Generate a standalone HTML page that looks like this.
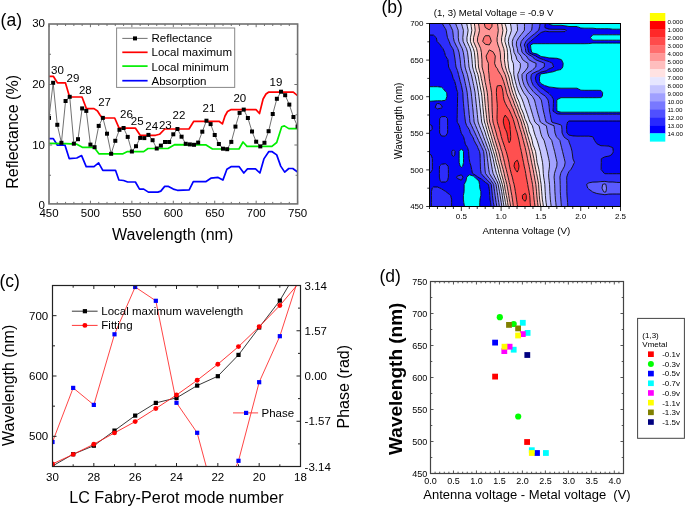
<!DOCTYPE html>
<html><head><meta charset="utf-8"><style>
html,body{margin:0;padding:0;background:#fff;}
svg{display:block;will-change:transform;}
text{font-family:"Liberation Sans",sans-serif;}
</style></head><body>
<svg width="685" height="507" viewBox="0 0 685 507">
<rect width="685" height="507" fill="#fff"/>
<g>
<clipPath id="ca"><rect x="49" y="24" width="248.6" height="179.9"/></clipPath>
<g clip-path="url(#ca)">
<polyline points="49,117.9 53.14,82.8 57.29,124.8 61.43,142.8 65.57,101 69.72,96.8 73.86,143.7 78,139.2 82.15,108.4 86.29,110.9 90.43,144.6 94.58,147.2 98.72,125.9 102.86,117.9 107.01,133.7 111.15,153.8 115.29,140.8 119.44,129.8 123.58,128 127.72,136.9 131.87,151.5 136.01,146.2 140.15,137.9 144.3,138.1 148.44,134.9 152.58,140.2 156.73,148.5 160.87,145.6 165.01,142 169.16,142 173.3,134.3 177.44,129 181.59,136.7 185.73,143.8 189.87,144.4 194.02,144.8 198.16,142.6 202.3,131.7 206.45,120.7 210.59,124.1 214.73,135 218.88,144 223.02,148.7 227.16,149.2 231.31,141.9 235.45,126.6 239.59,112.9 243.74,109.6 247.88,118 252.02,131.5 256.17,141.7 260.31,146.4 264.45,142.8 268.6,131.2 272.74,114 276.88,98.8 281.03,91.7 285.17,95.2 289.31,104.6 293.46,117 297.6,126.5" fill="none" stroke="#333" stroke-width="0.7"/>
<polyline points="49,138.6 53.3,138.6 57.4,145.2 65,145.2 69.2,158.6 76.8,158 81.6,155.6 86.2,166.6 94,166.6 98.6,162.9 102.8,170.3 115.5,170.3 118.9,180 123.6,180.5 127.7,182 135.4,182 139.5,189.1 143.7,189.1 148.4,192.1 157.9,192.1 160.8,191.1 164.7,186.4 168.5,186.4 173.3,189.1 177.4,190.3 189.2,189.9 193.3,181.7 205.7,181.7 210.9,178.2 218.1,177.4 222.9,180.1 226.9,169.3 231.4,166.6 239,166.6 243.8,173 247.5,168.9 255.5,168.9 259.9,173 263.9,158.9 268.7,151.7 272.2,151.7 276.7,154.9 280.7,166.1 284.7,172.1 288.8,168.5 292.8,168.5 297.6,172.1" fill="none" stroke="#0000ff" stroke-width="1.7" stroke-linejoin="round"/>
<polyline points="49,143.4 65.7,143.6 76.8,144.2 82.3,147.3 94,147.3 98.9,153.8 123,153.8 127.5,151.6 143.7,151.6 148,148.5 168,148.5 174.5,144.7 205.7,144.8 212.5,149 239,149 243,142 247,146.3 271.9,146.3 276.7,142.5 281.7,126.8 284.4,125.9 288.8,128.6 297.6,128.6" fill="none" stroke="#00ee00" stroke-width="1.7" stroke-linejoin="round"/>
<polyline points="49,76.3 53.3,76.3 57.4,82.8 65.4,82.8 69.6,97 82,97 86.4,108.6 94,108.6 97.5,111 100,115 102.3,118 114.7,118 119.1,128.2 135.5,128.2 140.2,135.3 155.6,135.3 159.5,134.3 164.8,129 189,129 193.8,121.3 219,121.3 222.4,123.9 225,116 227.5,111.5 230.8,109.7 256,109.7 259.5,113.5 263.1,99 266,94 268.5,92.2 293.3,92.2 297.6,95.7" fill="none" stroke="#ff0000" stroke-width="1.7" stroke-linejoin="round"/>
<rect x="47" y="115.9" width="4" height="4" fill="#000"/>
<rect x="51.14" y="80.8" width="4" height="4" fill="#000"/>
<rect x="55.29" y="122.8" width="4" height="4" fill="#000"/>
<rect x="59.43" y="140.8" width="4" height="4" fill="#000"/>
<rect x="63.57" y="99" width="4" height="4" fill="#000"/>
<rect x="67.72" y="94.8" width="4" height="4" fill="#000"/>
<rect x="71.86" y="141.7" width="4" height="4" fill="#000"/>
<rect x="76" y="137.2" width="4" height="4" fill="#000"/>
<rect x="80.15" y="106.4" width="4" height="4" fill="#000"/>
<rect x="84.29" y="108.9" width="4" height="4" fill="#000"/>
<rect x="88.43" y="142.6" width="4" height="4" fill="#000"/>
<rect x="92.58" y="145.2" width="4" height="4" fill="#000"/>
<rect x="96.72" y="123.9" width="4" height="4" fill="#000"/>
<rect x="100.86" y="115.9" width="4" height="4" fill="#000"/>
<rect x="105.01" y="131.7" width="4" height="4" fill="#000"/>
<rect x="109.15" y="151.8" width="4" height="4" fill="#000"/>
<rect x="113.29" y="138.8" width="4" height="4" fill="#000"/>
<rect x="117.44" y="127.8" width="4" height="4" fill="#000"/>
<rect x="121.58" y="126" width="4" height="4" fill="#000"/>
<rect x="125.72" y="134.9" width="4" height="4" fill="#000"/>
<rect x="129.87" y="149.5" width="4" height="4" fill="#000"/>
<rect x="134.01" y="144.2" width="4" height="4" fill="#000"/>
<rect x="138.15" y="135.9" width="4" height="4" fill="#000"/>
<rect x="142.3" y="136.1" width="4" height="4" fill="#000"/>
<rect x="146.44" y="132.9" width="4" height="4" fill="#000"/>
<rect x="150.58" y="138.2" width="4" height="4" fill="#000"/>
<rect x="154.73" y="146.5" width="4" height="4" fill="#000"/>
<rect x="158.87" y="143.6" width="4" height="4" fill="#000"/>
<rect x="163.01" y="140" width="4" height="4" fill="#000"/>
<rect x="167.16" y="140" width="4" height="4" fill="#000"/>
<rect x="171.3" y="132.3" width="4" height="4" fill="#000"/>
<rect x="175.44" y="127" width="4" height="4" fill="#000"/>
<rect x="179.59" y="134.7" width="4" height="4" fill="#000"/>
<rect x="183.73" y="141.8" width="4" height="4" fill="#000"/>
<rect x="187.87" y="142.4" width="4" height="4" fill="#000"/>
<rect x="192.02" y="142.8" width="4" height="4" fill="#000"/>
<rect x="196.16" y="140.6" width="4" height="4" fill="#000"/>
<rect x="200.3" y="129.7" width="4" height="4" fill="#000"/>
<rect x="204.45" y="118.7" width="4" height="4" fill="#000"/>
<rect x="208.59" y="122.1" width="4" height="4" fill="#000"/>
<rect x="212.73" y="133" width="4" height="4" fill="#000"/>
<rect x="216.88" y="142" width="4" height="4" fill="#000"/>
<rect x="221.02" y="146.7" width="4" height="4" fill="#000"/>
<rect x="225.16" y="147.2" width="4" height="4" fill="#000"/>
<rect x="229.31" y="139.9" width="4" height="4" fill="#000"/>
<rect x="233.45" y="124.6" width="4" height="4" fill="#000"/>
<rect x="237.59" y="110.9" width="4" height="4" fill="#000"/>
<rect x="241.74" y="107.6" width="4" height="4" fill="#000"/>
<rect x="245.88" y="116" width="4" height="4" fill="#000"/>
<rect x="250.02" y="129.5" width="4" height="4" fill="#000"/>
<rect x="254.17" y="139.7" width="4" height="4" fill="#000"/>
<rect x="258.31" y="144.4" width="4" height="4" fill="#000"/>
<rect x="262.45" y="140.8" width="4" height="4" fill="#000"/>
<rect x="266.6" y="129.2" width="4" height="4" fill="#000"/>
<rect x="270.74" y="112" width="4" height="4" fill="#000"/>
<rect x="274.88" y="96.8" width="4" height="4" fill="#000"/>
<rect x="279.03" y="89.7" width="4" height="4" fill="#000"/>
<rect x="283.17" y="93.2" width="4" height="4" fill="#000"/>
<rect x="287.31" y="102.6" width="4" height="4" fill="#000"/>
<rect x="291.46" y="115" width="4" height="4" fill="#000"/>
<rect x="295.6" y="124.5" width="4" height="4" fill="#000"/>
</g>
<path d="M49,203.9v-3.2M49,24v3.2M57.29,203.9v-2.0M57.29,24v2.0M65.57,203.9v-2.0M65.57,24v2.0M73.86,203.9v-2.0M73.86,24v2.0M82.15,203.9v-2.0M82.15,24v2.0M90.43,203.9v-3.2M90.43,24v3.2M98.72,203.9v-2.0M98.72,24v2.0M107.01,203.9v-2.0M107.01,24v2.0M115.29,203.9v-2.0M115.29,24v2.0M123.58,203.9v-2.0M123.58,24v2.0M131.87,203.9v-3.2M131.87,24v3.2M140.15,203.9v-2.0M140.15,24v2.0M148.44,203.9v-2.0M148.44,24v2.0M156.73,203.9v-2.0M156.73,24v2.0M165.01,203.9v-2.0M165.01,24v2.0M173.3,203.9v-3.2M173.3,24v3.2M181.59,203.9v-2.0M181.59,24v2.0M189.87,203.9v-2.0M189.87,24v2.0M198.16,203.9v-2.0M198.16,24v2.0M206.45,203.9v-2.0M206.45,24v2.0M214.73,203.9v-3.2M214.73,24v3.2M223.02,203.9v-2.0M223.02,24v2.0M231.31,203.9v-2.0M231.31,24v2.0M239.59,203.9v-2.0M239.59,24v2.0M247.88,203.9v-2.0M247.88,24v2.0M256.17,203.9v-3.2M256.17,24v3.2M264.45,203.9v-2.0M264.45,24v2.0M272.74,203.9v-2.0M272.74,24v2.0M281.03,203.9v-2.0M281.03,24v2.0M289.31,203.9v-2.0M289.31,24v2.0M297.6,203.9v-3.2M297.6,24v3.2M49,175.25h2.0M297.6,175.25h-2.0M49,145h3.2M297.6,145h-3.2M49,114.75h2.0M297.6,114.75h-2.0M49,84.5h3.2M297.6,84.5h-3.2M49,54.25h2.0M297.6,54.25h-2.0" stroke="#707070" stroke-width="1" fill="none"/>
<rect x="49" y="24" width="248.6" height="179.9" fill="none" stroke="#707070" stroke-width="1.6"/>
<text x="49" y="217.3" font-size="11.5" text-anchor="middle" fill="#000">450</text>
<text x="90.43" y="217.3" font-size="11.5" text-anchor="middle" fill="#000">500</text>
<text x="131.87" y="217.3" font-size="11.5" text-anchor="middle" fill="#000">550</text>
<text x="173.3" y="217.3" font-size="11.5" text-anchor="middle" fill="#000">600</text>
<text x="214.73" y="217.3" font-size="11.5" text-anchor="middle" fill="#000">650</text>
<text x="256.17" y="217.3" font-size="11.5" text-anchor="middle" fill="#000">700</text>
<text x="297.6" y="217.3" font-size="11.5" text-anchor="middle" fill="#000">750</text>
<text x="45" y="209.2" font-size="11.5" text-anchor="end" fill="#000">0</text>
<text x="45" y="148.57" font-size="11.5" text-anchor="end" fill="#000">10</text>
<text x="45" y="87.93" font-size="11.5" text-anchor="end" fill="#000">20</text>
<text x="45" y="27.3" font-size="11.5" text-anchor="end" fill="#000">30</text>
<text x="51" y="73.5" font-size="11.5" text-anchor="start" fill="#000">30</text>
<text x="66.5" y="82.1" font-size="11.5" text-anchor="start" fill="#000">29</text>
<text x="78.9" y="93.5" font-size="11.5" text-anchor="start" fill="#000">28</text>
<text x="98.2" y="105.8" font-size="11.5" text-anchor="start" fill="#000">27</text>
<text x="120.1" y="117.8" font-size="11.5" text-anchor="start" fill="#000">26</text>
<text x="130.8" y="125.4" font-size="11.5" text-anchor="start" fill="#000">25</text>
<text x="145.3" y="130.2" font-size="11.5" text-anchor="start" fill="#000">24</text>
<text x="158.9" y="129.3" font-size="11.5" text-anchor="start" fill="#000">23</text>
<text x="172.5" y="118.9" font-size="11.5" text-anchor="start" fill="#000">22</text>
<text x="202.6" y="111.9" font-size="11.5" text-anchor="start" fill="#000">21</text>
<text x="233.4" y="101.8" font-size="11.5" text-anchor="start" fill="#000">20</text>
<text x="269.6" y="86" font-size="11.5" text-anchor="start" fill="#000">19</text>
<rect x="116.6" y="28" width="118.1" height="59.4" fill="#fff" stroke="#888" stroke-width="1"/>
<line x1="122.3" y1="38.4" x2="147.6" y2="38.4" stroke="#333" stroke-width="0.7"/>
<rect x="133" y="36.4" width="4" height="4" fill="#000"/>
<line x1="122.3" y1="52.3" x2="147.6" y2="52.3" stroke="#ff0000" stroke-width="1.7"/>
<line x1="122.3" y1="66.1" x2="147.6" y2="66.1" stroke="#00ee00" stroke-width="1.7"/>
<line x1="122.3" y1="80.7" x2="147.6" y2="80.7" stroke="#0000ff" stroke-width="1.7"/>
<text x="151.5" y="41.5" font-size="11.5" text-anchor="start" fill="#000">Reflectance</text>
<text x="151.5" y="56.2" font-size="11.5" text-anchor="start" fill="#000">Local maximum</text>
<text x="151.5" y="70.5" font-size="11.5" text-anchor="start" fill="#000">Local minimum</text>
<text x="151.5" y="84.8" font-size="11.5" text-anchor="start" fill="#000">Absorption</text>
<text x="112" y="240.4" font-size="16" text-anchor="start" fill="#000">Wavelength (nm)</text>
<text x="18.2" y="188.8" font-size="16" text-anchor="start" fill="#000" transform="rotate(-90 18.2 188.8)">Reflectance (%)</text>
<text x="0.6" y="26" font-size="17.5" text-anchor="start" fill="#000">(a)</text>
</g>
<clipPath id="cc"><rect x="52.5" y="285.5" width="248" height="181"/></clipPath>
<g clip-path="url(#cc)">
<polyline points="52.5,442 73.17,387.9 93.83,404.9 114.5,334.3 135.17,287 155.83,300.8 176.5,402.8 197.17,432.8 217.83,509.7 238.5,460.8 259.17,382.2 279.83,336.2 300.5,272" fill="none" stroke="#ff3030" stroke-width="0.9"/>
<polyline points="52.5,466 73.17,454.2 93.83,445.7 114.5,430.6 135.17,415.6 155.83,402.9 176.5,397.9 197.17,385.6 217.83,376.2 238.5,354.9 259.17,327.5 279.83,300.6 300.5,265.4" fill="none" stroke="#222" stroke-width="0.9"/>
<polyline points="52.5,463.9 73.17,454.4 93.83,444.2 114.5,432.9 135.17,421.6 155.83,408.5 176.5,395 197.17,380.3 217.83,364.2 238.5,346.6 259.17,326.8 279.83,305.5 300.5,281.1" fill="none" stroke="#ff2020" stroke-width="0.9"/>
<rect x="50.4" y="463.9" width="4.2" height="4.2" fill="#000"/>
<rect x="71.07" y="452.1" width="4.2" height="4.2" fill="#000"/>
<rect x="91.73" y="443.6" width="4.2" height="4.2" fill="#000"/>
<rect x="112.4" y="428.5" width="4.2" height="4.2" fill="#000"/>
<rect x="133.07" y="413.5" width="4.2" height="4.2" fill="#000"/>
<rect x="153.73" y="400.8" width="4.2" height="4.2" fill="#000"/>
<rect x="174.4" y="395.8" width="4.2" height="4.2" fill="#000"/>
<rect x="195.07" y="383.5" width="4.2" height="4.2" fill="#000"/>
<rect x="215.73" y="374.1" width="4.2" height="4.2" fill="#000"/>
<rect x="236.4" y="352.8" width="4.2" height="4.2" fill="#000"/>
<rect x="257.07" y="325.4" width="4.2" height="4.2" fill="#000"/>
<rect x="277.73" y="298.5" width="4.2" height="4.2" fill="#000"/>
<rect x="298.4" y="263.3" width="4.2" height="4.2" fill="#000"/>
<circle cx="52.5" cy="463.9" r="2.45" fill="#ff0000"/>
<circle cx="73.17" cy="454.4" r="2.45" fill="#ff0000"/>
<circle cx="93.83" cy="444.2" r="2.45" fill="#ff0000"/>
<circle cx="114.5" cy="432.9" r="2.45" fill="#ff0000"/>
<circle cx="135.17" cy="421.6" r="2.45" fill="#ff0000"/>
<circle cx="155.83" cy="408.5" r="2.45" fill="#ff0000"/>
<circle cx="176.5" cy="395" r="2.45" fill="#ff0000"/>
<circle cx="197.17" cy="380.3" r="2.45" fill="#ff0000"/>
<circle cx="217.83" cy="364.2" r="2.45" fill="#ff0000"/>
<circle cx="238.5" cy="346.6" r="2.45" fill="#ff0000"/>
<circle cx="259.17" cy="326.8" r="2.45" fill="#ff0000"/>
<circle cx="279.83" cy="305.5" r="2.45" fill="#ff0000"/>
<circle cx="300.5" cy="281.1" r="2.45" fill="#ff0000"/>
<rect x="50.4" y="439.9" width="4.2" height="4.2" fill="#0000ff"/>
<rect x="71.07" y="385.8" width="4.2" height="4.2" fill="#0000ff"/>
<rect x="91.73" y="402.8" width="4.2" height="4.2" fill="#0000ff"/>
<rect x="112.4" y="332.2" width="4.2" height="4.2" fill="#0000ff"/>
<rect x="133.07" y="284.9" width="4.2" height="4.2" fill="#0000ff"/>
<rect x="153.73" y="298.7" width="4.2" height="4.2" fill="#0000ff"/>
<rect x="174.4" y="400.7" width="4.2" height="4.2" fill="#0000ff"/>
<rect x="195.07" y="430.7" width="4.2" height="4.2" fill="#0000ff"/>
<rect x="215.73" y="507.6" width="4.2" height="4.2" fill="#0000ff"/>
<rect x="236.4" y="458.7" width="4.2" height="4.2" fill="#0000ff"/>
<rect x="257.07" y="380.1" width="4.2" height="4.2" fill="#0000ff"/>
<rect x="277.73" y="334.1" width="4.2" height="4.2" fill="#0000ff"/>
<rect x="298.4" y="269.9" width="4.2" height="4.2" fill="#0000ff"/>
</g>
<path d="M300.5,466.5v-3.5M300.5,285.5v3.5M279.83,466.5v-2.2M279.83,285.5v2.2M259.17,466.5v-3.5M259.17,285.5v3.5M238.5,466.5v-2.2M238.5,285.5v2.2M217.83,466.5v-3.5M217.83,285.5v3.5M197.17,466.5v-2.2M197.17,285.5v2.2M176.5,466.5v-3.5M176.5,285.5v3.5M155.83,466.5v-2.2M155.83,285.5v2.2M135.17,466.5v-3.5M135.17,285.5v3.5M114.5,466.5v-2.2M114.5,285.5v2.2M93.83,466.5v-3.5M93.83,285.5v3.5M73.17,466.5v-2.2M73.17,285.5v2.2M52.5,466.5v-3.5M52.5,285.5v3.5M52.5,466.5h2.5M52.5,436.33h4M52.5,406.17h2.5M52.5,376h4M52.5,345.83h2.5M52.5,315.67h4M52.5,285.5h2.5M300.5,285.5h-4M300.5,308.12h-2.5M300.5,330.75h-4M300.5,353.38h-2.5M300.5,376h-4M300.5,398.62h-2.5M300.5,421.25h-4M300.5,443.88h-2.5M300.5,466.5h-4" stroke="#222" stroke-width="1" fill="none"/>
<rect x="52.5" y="285.5" width="248" height="181" fill="none" stroke="#222" stroke-width="1.2"/>
<text x="300.5" y="481" font-size="11.5" text-anchor="middle" fill="#000">18</text>
<text x="259.17" y="481" font-size="11.5" text-anchor="middle" fill="#000">20</text>
<text x="217.83" y="481" font-size="11.5" text-anchor="middle" fill="#000">22</text>
<text x="176.5" y="481" font-size="11.5" text-anchor="middle" fill="#000">24</text>
<text x="135.17" y="481" font-size="11.5" text-anchor="middle" fill="#000">26</text>
<text x="93.83" y="481" font-size="11.5" text-anchor="middle" fill="#000">28</text>
<text x="52.5" y="481" font-size="11.5" text-anchor="middle" fill="#000">30</text>
<text x="48.2" y="440.43" font-size="11.5" text-anchor="end" fill="#000">500</text>
<text x="48.2" y="380.1" font-size="11.5" text-anchor="end" fill="#000">600</text>
<text x="48.2" y="319.77" font-size="11.5" text-anchor="end" fill="#000">700</text>
<text x="304.6" y="289.6" font-size="11.5" text-anchor="start" fill="#000">3.14</text>
<text x="304.6" y="334.85" font-size="11.5" text-anchor="start" fill="#000">1.57</text>
<text x="304.6" y="380.1" font-size="11.5" text-anchor="start" fill="#000">0.00</text>
<text x="304.6" y="425.35" font-size="11.5" text-anchor="start" fill="#000">-1.57</text>
<text x="304.6" y="470.6" font-size="11.5" text-anchor="start" fill="#000">-3.14</text>
<line x1="71.9" y1="311.2" x2="97.6" y2="311.2" stroke="#222" stroke-width="0.9"/>
<rect x="82.8" y="309.09999999999997" width="4.2" height="4.2" fill="#000"/>
<line x1="71.9" y1="325.4" x2="97.6" y2="325.4" stroke="#ff2020" stroke-width="0.9"/>
<circle cx="84.9" cy="325.4" r="2.45" fill="#ff0000"/>
<text x="101.3" y="315" font-size="11.5" text-anchor="start" fill="#000">Local maximum wavelength</text>
<text x="101.3" y="328.8" font-size="11.5" text-anchor="start" fill="#000">Fitting</text>
<line x1="233" y1="412.9" x2="258.1" y2="412.9" stroke="#ff3030" stroke-width="0.9"/>
<rect x="244" y="410.8" width="4.2" height="4.2" fill="#0000ff"/>
<text x="261.5" y="417.3" font-size="11.5" text-anchor="start" fill="#000">Phase</text>
<text x="69.2" y="503.4" font-size="16.15" text-anchor="start" fill="#000">LC Fabry-Perot mode number</text>
<text x="14.2" y="446" font-size="16" text-anchor="start" fill="#000" transform="rotate(-90 14.2 446)">Wavelength (nm)</text>
<text x="349.2" y="428.5" font-size="16" text-anchor="start" fill="#000" transform="rotate(-90 349.2 428.5)">Phase (rad)</text>
<text x="-0.5" y="287" font-size="17.5" text-anchor="start" fill="#000">(c)</text>
<clipPath id="cb"><rect x="429.5" y="23.5" width="191" height="183"/></clipPath>
<g clip-path="url(#cb)">
<path d="M525.2,201.3 526.3,199.1 526.3,195.4 525.2,193.3 522.3,195.4 522.6,199.1ZM517.2,172.1 518.5,169.7 519.0,166.1 518.3,162.4 517.2,160.1 514.7,162.4 514.0,166.1 515.4,169.7ZM509.2,142.8 510.5,140.4 510.7,136.7 510.5,133.0 510.2,129.4 509.8,125.7 509.3,122.0 509.2,121.6 507.7,118.4 505.2,115.1 503.5,118.4 503.3,122.0 504.1,125.7 505.2,129.2 505.5,129.4 507.0,133.0 507.6,136.7 508.3,140.4Z" fill="#ff2d2d"/>
<path d="M517.2,204.3 517.6,206.4 521.2,206.4 525.2,206.4 529.1,206.4 530.5,206.4 530.2,202.7 530.0,199.1 529.7,195.4 529.1,192.1 529.1,191.7 528.3,188.1 527.7,184.4 527.0,180.7 526.3,177.1 525.7,173.4 525.2,170.3 525.0,169.7 524.2,166.1 523.5,162.4 522.7,158.7 522.0,155.0 521.3,151.4 521.2,150.6 520.4,147.7 519.7,144.0 519.0,140.4 518.1,136.7 517.2,133.0 517.2,132.9 516.0,129.4 515.0,125.7 514.0,122.0 513.2,119.3 512.9,118.4 511.4,114.7 509.7,111.0 509.2,109.9 507.4,107.4 505.5,103.7 505.2,103.0 504.0,100.0 503.4,96.4 503.0,92.7 502.4,89.0 501.2,85.5 497.3,85.8 496.5,89.0 496.4,92.7 496.6,96.4 496.8,100.0 497.2,103.7 497.3,107.0 497.3,107.4 497.3,107.9 497.2,111.0 497.1,114.7 497.0,118.4 497.3,121.7 497.3,122.0 498.4,125.7 499.5,129.4 500.5,133.0 501.2,136.3 501.3,136.7 502.4,140.4 503.7,144.0 504.9,147.7 505.2,148.9 506.2,151.4 507.2,155.0 508.1,158.7 508.9,162.4 509.2,164.1 509.5,166.1 510.3,169.7 511.2,173.4 512.3,177.1 513.1,180.7 513.2,181.3 514.1,184.4 514.8,188.1 515.4,191.7 516.0,195.4 516.5,199.1 517.0,202.7ZM522.6,199.1 522.3,195.4 525.2,193.3 526.3,195.4 526.3,199.1 525.2,201.3ZM515.4,169.7 514.0,166.1 514.7,162.4 517.2,160.1 518.3,162.4 519.0,166.1 518.5,169.7 517.2,172.1ZM508.3,140.4 507.6,136.7 507.0,133.0 505.5,129.4 505.2,129.2 504.1,125.7 503.3,122.0 503.5,118.4 505.2,115.1 507.7,118.4 509.2,121.6 509.3,122.0 509.8,125.7 510.2,129.4 510.5,133.0 510.7,136.7 510.5,140.4 509.2,142.8Z" fill="#ff5050"/>
<path d="M513.2,205.3 513.4,206.4 517.2,206.4 517.6,206.4 517.2,204.3 517.0,202.7 516.5,199.1 516.0,195.4 515.4,191.7 514.8,188.1 514.1,184.4 513.2,181.3 513.1,180.7 512.3,177.1 511.2,173.4 510.3,169.7 509.5,166.1 509.2,164.1 508.9,162.4 508.1,158.7 507.2,155.0 506.2,151.4 505.2,148.9 504.9,147.7 503.7,144.0 502.4,140.4 501.3,136.7 501.2,136.3 500.5,133.0 499.5,129.4 498.4,125.7 497.3,122.0 497.3,121.7 497.0,118.4 497.1,114.7 497.2,111.0 497.3,107.9 497.3,107.4 497.3,107.0 497.2,103.7 496.8,100.0 496.6,96.4 496.4,92.7 496.5,89.0 497.3,85.8 501.2,85.5 502.4,89.0 503.0,92.7 503.4,96.4 504.0,100.0 505.2,103.0 505.5,103.7 507.4,107.4 509.2,109.9 509.7,111.0 511.4,114.7 512.9,118.4 513.2,119.3 514.0,122.0 515.0,125.7 516.0,129.4 517.2,132.9 517.2,133.0 518.1,136.7 519.0,140.4 519.7,144.0 520.4,147.7 521.2,150.6 521.3,151.4 522.0,155.0 522.7,158.7 523.5,162.4 524.2,166.1 525.0,169.7 525.2,170.3 525.7,173.4 526.3,177.1 527.0,180.7 527.7,184.4 528.3,188.1 529.1,191.7 529.1,192.1 529.7,195.4 530.0,199.1 530.2,202.7 530.5,206.4 533.1,206.4 535.0,206.4 534.5,202.7 534.0,199.1 533.7,195.4 533.3,191.7 533.1,189.3 533.0,188.1 532.5,184.4 531.8,180.7 531.1,177.1 530.4,173.4 529.7,169.7 529.1,166.4 529.1,166.1 528.2,162.4 527.5,158.7 526.8,155.0 526.0,151.4 525.2,147.7 525.2,147.4 524.2,144.0 523.3,140.4 522.3,136.7 521.4,133.0 521.2,132.3 520.2,129.4 519.1,125.7 518.1,122.0 517.2,119.0 516.9,118.4 515.3,114.7 513.9,111.0 513.2,109.0 512.4,107.4 510.8,103.7 509.5,100.0 509.2,99.3 507.9,96.4 506.6,92.7 505.8,89.0 505.2,86.8 504.8,85.4 503.7,81.7 502.3,78.0 501.2,75.3 500.5,74.4 498.2,70.7 497.3,68.5 495.9,67.0 494.6,63.3 495.0,59.7 495.3,56.0 493.4,52.3 493.3,52.0 489.3,49.9 488.0,52.3 486.1,56.0 486.8,59.7 488.4,63.3 488.4,67.0 488.5,70.7 489.0,74.4 489.2,78.0 489.3,78.7 489.7,81.7 490.4,85.4 491.0,89.0 491.6,92.7 491.8,96.4 491.9,100.0 492.0,103.7 492.1,107.4 492.2,111.0 492.4,114.7 492.6,118.4 493.0,122.0 493.3,123.2 494.1,125.7 495.1,129.4 496.2,133.0 497.1,136.7 497.3,137.3 498.3,140.4 499.5,144.0 500.6,147.7 501.2,149.9 501.8,151.4 502.7,155.0 503.6,158.7 504.5,162.4 505.2,165.9 505.3,166.1 506.3,169.7 507.2,173.4 508.1,177.1 508.9,180.7 509.2,182.4 509.8,184.4 510.5,188.1 511.1,191.7 511.8,195.4 512.4,199.1 512.9,202.7ZM485.3,44.3 489.3,44.9 491.3,41.3 490.2,37.7 489.3,35.7 485.3,35.7 483.9,37.7 482.7,41.3ZM485.3,27.5 489.3,29.9 491.8,26.7 492.2,23.0 489.3,23.0 485.3,23.0 484.2,23.0 485.0,26.7Z" fill="#ff7373"/>
<path d="M513.2,206.4 513.4,206.4 513.2,205.3 512.9,202.7 512.4,199.1 511.8,195.4 511.1,191.7 510.5,188.1 509.8,184.4 509.2,182.4 508.9,180.7 508.1,177.1 507.2,173.4 506.3,169.7 505.3,166.1 505.2,165.9 504.5,162.4 503.6,158.7 502.7,155.0 501.8,151.4 501.2,149.9 500.6,147.7 499.5,144.0 498.3,140.4 497.3,137.3 497.1,136.7 496.2,133.0 495.1,129.4 494.1,125.7 493.3,123.2 493.0,122.0 492.6,118.4 492.4,114.7 492.2,111.0 492.1,107.4 492.0,103.7 491.9,100.0 491.8,96.4 491.6,92.7 491.0,89.0 490.4,85.4 489.7,81.7 489.3,78.7 489.2,78.0 489.0,74.4 488.5,70.7 488.4,67.0 488.4,63.3 486.8,59.7 486.1,56.0 488.0,52.3 489.3,49.9 493.3,52.0 493.4,52.3 495.3,56.0 495.0,59.7 494.6,63.3 495.9,67.0 497.3,68.5 498.2,70.7 500.5,74.4 501.2,75.3 502.3,78.0 503.7,81.7 504.8,85.4 505.2,86.8 505.8,89.0 506.6,92.7 507.9,96.4 509.2,99.3 509.5,100.0 510.8,103.7 512.4,107.4 513.2,109.0 513.9,111.0 515.3,114.7 516.9,118.4 517.2,119.0 518.1,122.0 519.1,125.7 520.2,129.4 521.2,132.3 521.4,133.0 522.3,136.7 523.3,140.4 524.2,144.0 525.2,147.4 525.2,147.7 526.0,151.4 526.8,155.0 527.5,158.7 528.2,162.4 529.1,166.1 529.1,166.4 529.7,169.7 530.4,173.4 531.1,177.1 531.8,180.7 532.5,184.4 533.0,188.1 533.1,189.3 533.3,191.7 533.7,195.4 534.0,199.1 534.5,202.7 535.0,206.4 537.1,206.4 538.1,206.4 537.6,202.7 537.2,199.1 537.1,198.0 536.8,195.4 536.5,191.7 536.2,188.1 535.8,184.4 535.1,180.7 534.5,177.1 533.8,173.4 533.2,169.7 533.1,169.5 532.4,166.1 531.6,162.4 530.9,158.7 530.2,155.0 529.5,151.4 529.1,149.8 528.5,147.7 527.5,144.0 526.5,140.4 525.5,136.7 525.2,135.4 524.4,133.0 523.3,129.4 522.2,125.7 521.3,122.0 521.2,121.7 519.9,118.4 518.4,114.7 517.2,111.1 517.2,111.0 515.6,107.4 514.2,103.7 513.2,100.7 512.9,100.0 511.3,96.4 510.1,92.7 509.2,89.1 509.2,89.0 508.1,85.4 507.1,81.7 506.2,78.0 505.2,74.7 505.1,74.4 503.3,70.7 501.9,67.0 501.3,63.3 501.2,62.8 500.6,59.7 500.5,56.0 500.2,52.3 499.4,48.7 498.0,45.0 497.3,42.0 497.1,41.3 497.1,37.7 497.3,37.1 497.8,34.0 498.3,30.3 497.9,26.7 497.4,23.0 497.3,23.0 493.3,23.0 492.2,23.0 491.8,26.7 489.3,29.9 485.3,27.5 485.0,26.7 484.2,23.0 481.3,23.0 478.4,23.0 479.0,26.7 479.5,30.3 478.7,34.0 477.6,37.7 477.4,41.3 479.1,45.0 480.7,48.7 481.3,52.1 481.4,52.3 481.6,56.0 481.9,59.7 482.0,63.3 482.1,67.0 483.0,70.7 484.0,74.4 484.6,78.0 485.1,81.7 485.3,82.6 485.9,85.4 486.6,89.0 487.3,92.7 487.7,96.4 487.9,100.0 488.2,103.7 488.4,107.4 488.7,111.0 489.0,114.7 489.3,118.4 489.3,118.6 489.7,122.0 490.8,125.7 491.9,129.4 492.9,133.0 493.3,134.5 494.0,136.7 495.1,140.4 496.2,144.0 497.3,147.6 497.3,147.7 498.5,151.4 499.5,155.0 500.3,158.7 501.2,162.4 501.2,162.6 502.2,166.1 503.2,169.7 504.1,173.4 504.9,177.1 505.2,178.5 505.9,180.7 506.8,184.4 507.5,188.1 508.1,191.7 508.7,195.4 509.2,198.5 509.3,199.1 510.0,202.7 510.6,206.4ZM482.7,41.3 483.9,37.7 485.3,35.7 489.3,35.7 490.2,37.7 491.3,41.3 489.3,44.9 485.3,44.3Z" fill="#ff9696"/>
<path d="M509.2,206.4 510.6,206.4 510.0,202.7 509.3,199.1 509.2,198.5 508.7,195.4 508.1,191.7 507.5,188.1 506.8,184.4 505.9,180.7 505.2,178.5 504.9,177.1 504.1,173.4 503.2,169.7 502.2,166.1 501.2,162.6 501.2,162.4 500.3,158.7 499.5,155.0 498.5,151.4 497.3,147.7 497.3,147.6 496.2,144.0 495.1,140.4 494.0,136.7 493.3,134.5 492.9,133.0 491.9,129.4 490.8,125.7 489.7,122.0 489.3,118.6 489.3,118.4 489.0,114.7 488.7,111.0 488.4,107.4 488.2,103.7 487.9,100.0 487.7,96.4 487.3,92.7 486.6,89.0 485.9,85.4 485.3,82.6 485.1,81.7 484.6,78.0 484.0,74.4 483.0,70.7 482.1,67.0 482.0,63.3 481.9,59.7 481.6,56.0 481.4,52.3 481.3,52.1 480.7,48.7 479.1,45.0 477.4,41.3 477.6,37.7 478.7,34.0 479.5,30.3 479.0,26.7 478.4,23.0 477.3,23.0 474.3,23.0 474.8,26.7 475.2,30.3 474.5,34.0 473.5,37.7 473.4,41.3 475.0,45.0 476.6,48.7 477.3,52.2 477.4,52.3 477.8,56.0 478.1,59.7 478.3,63.3 478.5,67.0 479.4,70.7 480.6,74.4 481.2,78.0 481.3,78.5 482.0,81.7 482.7,85.4 483.5,89.0 484.1,92.7 484.5,96.4 484.8,100.0 485.1,103.7 485.3,105.7 485.5,107.4 485.9,111.0 486.3,114.7 486.7,118.4 487.1,122.0 488.1,125.7 489.1,129.4 489.3,129.9 490.3,133.0 491.4,136.7 492.4,140.4 493.3,143.4 493.5,144.0 494.7,147.7 495.8,151.4 496.7,155.0 497.3,157.4 497.6,158.7 498.6,162.4 499.6,166.1 500.5,169.7 501.2,172.8 501.4,173.4 502.4,177.1 503.4,180.7 504.4,184.4 504.9,188.1 505.2,189.9 505.6,191.7 506.3,195.4 507.1,199.1 507.6,202.7 508.2,206.4ZM540.1,202.7 539.6,199.1 539.3,195.4 539.1,191.7 538.8,188.1 538.6,184.4 538.0,180.7 537.3,177.1 537.1,176.0 536.6,173.4 535.8,169.7 535.1,166.1 534.5,162.4 533.9,158.7 533.1,155.0 533.1,155.0 532.3,151.4 531.2,147.7 530.3,144.0 529.2,140.4 529.1,140.1 528.1,136.7 527.0,133.0 526.0,129.4 525.2,126.6 524.9,125.7 523.7,122.0 522.4,118.4 521.2,114.9 521.1,114.7 519.6,111.0 518.3,107.4 517.2,104.3 516.9,103.7 515.4,100.0 514.2,96.4 513.2,93.7 512.8,92.7 511.7,89.0 510.8,85.4 510.0,81.7 509.2,78.1 509.2,78.0 508.0,74.4 506.6,70.7 505.5,67.0 505.2,65.4 504.9,63.3 504.4,59.7 504.5,56.0 504.4,52.3 503.8,48.7 502.5,45.0 501.5,41.3 501.6,37.7 502.4,34.0 502.9,30.3 502.3,26.7 501.6,23.0 501.2,23.0 497.4,23.0 497.9,26.7 498.3,30.3 497.8,34.0 497.3,37.1 497.1,37.7 497.1,41.3 497.3,42.0 498.0,45.0 499.4,48.7 500.2,52.3 500.5,56.0 500.6,59.7 501.2,62.8 501.3,63.3 501.9,67.0 503.3,70.7 505.1,74.4 505.2,74.7 506.2,78.0 507.1,81.7 508.1,85.4 509.2,89.0 509.2,89.1 510.1,92.7 511.3,96.4 512.9,100.0 513.2,100.7 514.2,103.7 515.6,107.4 517.2,111.0 517.2,111.1 518.4,114.7 519.9,118.4 521.2,121.7 521.3,122.0 522.2,125.7 523.3,129.4 524.4,133.0 525.2,135.4 525.5,136.7 526.5,140.4 527.5,144.0 528.5,147.7 529.1,149.8 529.5,151.4 530.2,155.0 530.9,158.7 531.6,162.4 532.4,166.1 533.1,169.5 533.2,169.7 533.8,173.4 534.5,177.1 535.1,180.7 535.8,184.4 536.2,188.1 536.5,191.7 536.8,195.4 537.1,198.0 537.2,199.1 537.6,202.7 538.1,206.4 540.7,206.4Z" fill="#ffbebe"/>
<path d="M507.6,202.7 507.1,199.1 506.3,195.4 505.6,191.7 505.2,189.9 504.9,188.1 504.4,184.4 503.4,180.7 502.4,177.1 501.4,173.4 501.2,172.8 500.5,169.7 499.6,166.1 498.6,162.4 497.6,158.7 497.3,157.4 496.7,155.0 495.8,151.4 494.7,147.7 493.5,144.0 493.3,143.4 492.4,140.4 491.4,136.7 490.3,133.0 489.3,129.9 489.1,129.4 488.1,125.7 487.1,122.0 486.7,118.4 486.3,114.7 485.9,111.0 485.5,107.4 485.3,105.7 485.1,103.7 484.8,100.0 484.5,96.4 484.1,92.7 483.5,89.0 482.7,85.4 482.0,81.7 481.3,78.5 481.2,78.0 480.6,74.4 479.4,70.7 478.5,67.0 478.3,63.3 478.1,59.7 477.8,56.0 477.4,52.3 477.3,52.2 476.6,48.7 475.0,45.0 473.4,41.3 473.5,37.7 474.5,34.0 475.2,30.3 474.8,26.7 474.3,23.0 473.3,23.0 470.8,23.0 471.3,26.7 471.8,30.3 471.2,34.0 470.4,37.7 470.4,41.3 471.7,45.0 473.3,48.5 473.4,48.7 474.4,52.3 474.8,56.0 475.1,59.7 475.3,63.3 475.5,67.0 476.4,70.7 477.3,73.0 477.8,74.4 478.6,78.0 479.2,81.7 479.9,85.4 480.6,89.0 481.3,92.3 481.4,92.7 481.9,96.4 482.2,100.0 482.6,103.7 482.9,107.4 483.3,111.0 483.6,114.7 484.0,118.4 484.5,122.0 485.3,124.3 485.7,125.7 486.8,129.4 487.8,133.0 488.9,136.7 489.3,137.7 490.2,140.4 491.2,144.0 492.3,147.7 493.3,151.0 493.4,151.4 494.5,155.0 495.4,158.7 496.2,162.4 497.2,166.1 497.3,166.1 498.2,169.7 499.0,173.4 500.1,177.1 501.2,180.7 501.2,180.9 502.3,184.4 503.0,188.1 503.6,191.7 504.2,195.4 504.9,199.1 505.2,201.2 505.5,202.7 506.2,206.4 508.2,206.4ZM541.1,206.4 543.4,206.4 542.9,202.7 542.3,199.1 542.0,195.4 541.7,191.7 541.4,188.1 541.1,184.7 541.1,184.4 540.5,180.7 540.0,177.1 539.5,173.4 538.9,169.7 538.1,166.1 537.1,162.5 537.1,162.4 536.6,158.7 536.1,155.0 535.5,151.4 534.2,147.7 533.1,145.2 532.8,144.0 532.1,140.4 531.1,136.7 529.6,133.0 529.1,131.9 528.6,129.4 527.8,125.7 526.5,122.0 525.2,119.4 524.8,118.4 523.8,114.7 522.4,111.0 521.2,108.6 520.7,107.4 519.7,103.7 518.3,100.0 517.2,97.9 516.7,96.4 515.5,92.7 514.5,89.0 513.3,85.4 513.2,85.0 512.4,81.7 511.7,78.0 510.8,74.4 509.3,70.7 509.2,70.3 508.5,67.0 508.2,63.3 507.7,59.7 507.7,56.0 507.5,52.3 507.1,48.7 506.0,45.0 505.2,42.2 504.9,41.3 505.1,37.7 505.2,37.4 506.1,34.0 506.8,30.3 506.0,26.7 505.2,24.2 505.0,23.0 501.6,23.0 502.3,26.7 502.9,30.3 502.4,34.0 501.6,37.7 501.5,41.3 502.5,45.0 503.8,48.7 504.4,52.3 504.5,56.0 504.4,59.7 504.9,63.3 505.2,65.4 505.5,67.0 506.6,70.7 508.0,74.4 509.2,78.0 509.2,78.1 510.0,81.7 510.8,85.4 511.7,89.0 512.8,92.7 513.2,93.7 514.2,96.4 515.4,100.0 516.9,103.7 517.2,104.3 518.3,107.4 519.6,111.0 521.1,114.7 521.2,114.9 522.4,118.4 523.7,122.0 524.9,125.7 525.2,126.6 526.0,129.4 527.0,133.0 528.1,136.7 529.1,140.1 529.2,140.4 530.3,144.0 531.2,147.7 532.3,151.4 533.1,155.0 533.1,155.0 533.9,158.7 534.5,162.4 535.1,166.1 535.8,169.7 536.6,173.4 537.1,176.0 537.3,177.1 538.0,180.7 538.6,184.4 538.8,188.1 539.1,191.7 539.3,195.4 539.6,199.1 540.1,202.7 540.7,206.4Z" fill="#ffe4e4"/>
<path d="M505.2,206.4 506.2,206.4 505.5,202.7 505.2,201.2 504.9,199.1 504.2,195.4 503.6,191.7 503.0,188.1 502.3,184.4 501.2,180.9 501.2,180.7 500.1,177.1 499.0,173.4 498.2,169.7 497.3,166.1 497.2,166.1 496.2,162.4 495.4,158.7 494.5,155.0 493.4,151.4 493.3,151.0 492.3,147.7 491.2,144.0 490.2,140.4 489.3,137.7 488.9,136.7 487.8,133.0 486.8,129.4 485.7,125.7 485.3,124.3 484.5,122.0 484.0,118.4 483.6,114.7 483.3,111.0 482.9,107.4 482.6,103.7 482.2,100.0 481.9,96.4 481.4,92.7 481.3,92.3 480.6,89.0 479.9,85.4 479.2,81.7 478.6,78.0 477.8,74.4 477.3,73.0 476.4,70.7 475.5,67.0 475.3,63.3 475.1,59.7 474.8,56.0 474.4,52.3 473.4,48.7 473.3,48.5 471.7,45.0 470.4,41.3 470.4,37.7 471.2,34.0 471.8,30.3 471.3,26.7 470.8,23.0 469.4,23.0 466.6,23.0 467.4,26.7 468.1,30.3 467.6,34.0 466.9,37.7 467.0,41.3 468.6,45.0 469.4,46.6 470.2,48.7 471.2,52.3 471.6,56.0 472.0,59.7 472.3,63.3 472.6,67.0 473.3,69.6 473.6,70.7 474.8,74.4 475.6,78.0 476.4,81.7 477.2,85.4 477.3,86.0 477.8,89.0 478.4,92.7 478.9,96.4 479.3,100.0 479.7,103.7 480.1,107.4 480.5,111.0 480.9,114.7 481.3,118.2 481.3,118.4 481.7,122.0 482.8,125.7 484.1,129.4 485.3,132.8 485.3,133.0 486.4,136.7 487.7,140.4 489.0,144.0 489.3,144.9 490.1,147.7 491.2,151.4 492.2,155.0 493.1,158.7 493.3,159.4 493.9,162.4 494.6,166.1 495.5,169.7 496.4,173.4 497.3,175.4 497.7,177.1 499.0,180.7 500.3,184.4 501.0,188.1 501.2,189.1 501.7,191.7 502.3,195.4 502.8,199.1 503.4,202.7 504.0,206.4ZM545.1,206.4 546.7,206.4 546.1,202.7 545.7,199.1 545.4,195.4 545.2,191.7 545.1,189.8 545.0,188.1 544.8,184.4 544.3,180.7 543.7,177.1 543.3,173.4 543.1,169.7 542.9,166.1 542.5,162.4 541.8,158.7 541.1,155.4 541.0,155.0 540.3,151.4 539.2,147.7 538.2,144.0 537.1,140.5 537.1,140.4 535.6,136.7 534.4,133.0 533.4,129.4 533.1,128.4 532.4,125.7 530.0,122.0 529.1,119.7 528.7,118.4 527.5,114.7 526.2,111.0 525.2,108.1 524.9,107.4 523.7,103.7 522.4,100.0 521.2,97.2 520.8,96.4 518.9,92.7 517.5,89.0 517.2,88.2 516.4,85.4 515.4,81.7 514.5,78.0 513.8,74.4 513.7,70.7 513.6,67.0 513.3,63.3 513.2,63.2 511.7,59.7 511.4,56.0 510.6,52.3 510.1,48.7 509.2,46.0 508.9,45.0 508.3,41.3 508.9,37.7 509.2,36.8 510.3,34.0 511.4,30.3 511.0,26.7 510.3,23.0 509.2,23.0 505.2,23.0 505.0,23.0 505.2,24.2 506.0,26.7 506.8,30.3 506.1,34.0 505.2,37.4 505.1,37.7 504.9,41.3 505.2,42.2 506.0,45.0 507.1,48.7 507.5,52.3 507.7,56.0 507.7,59.7 508.2,63.3 508.5,67.0 509.2,70.3 509.3,70.7 510.8,74.4 511.7,78.0 512.4,81.7 513.2,85.0 513.3,85.4 514.5,89.0 515.5,92.7 516.7,96.4 517.2,97.9 518.3,100.0 519.7,103.7 520.7,107.4 521.2,108.6 522.4,111.0 523.8,114.7 524.8,118.4 525.2,119.4 526.5,122.0 527.8,125.7 528.6,129.4 529.1,131.9 529.6,133.0 531.1,136.7 532.1,140.4 532.8,144.0 533.1,145.2 534.2,147.7 535.5,151.4 536.1,155.0 536.6,158.7 537.1,162.4 537.1,162.5 538.1,166.1 538.9,169.7 539.5,173.4 540.0,177.1 540.5,180.7 541.1,184.4 541.1,184.7 541.4,188.1 541.7,191.7 542.0,195.4 542.3,199.1 542.9,202.7 543.4,206.4Z" fill="#e6e6ff"/>
<path d="M503.4,202.7 502.8,199.1 502.3,195.4 501.7,191.7 501.2,189.1 501.0,188.1 500.3,184.4 499.0,180.7 497.7,177.1 497.3,175.4 496.4,173.4 495.5,169.7 494.6,166.1 493.9,162.4 493.3,159.4 493.1,158.7 492.2,155.0 491.2,151.4 490.1,147.7 489.3,144.9 489.0,144.0 487.7,140.4 486.4,136.7 485.3,133.0 485.3,132.8 484.1,129.4 482.8,125.7 481.7,122.0 481.3,118.4 481.3,118.2 480.9,114.7 480.5,111.0 480.1,107.4 479.7,103.7 479.3,100.0 478.9,96.4 478.4,92.7 477.8,89.0 477.3,86.0 477.2,85.4 476.4,81.7 475.6,78.0 474.8,74.4 473.6,70.7 473.3,69.6 472.6,67.0 472.3,63.3 472.0,59.7 471.6,56.0 471.2,52.3 470.2,48.7 469.4,46.6 468.6,45.0 467.0,41.3 466.9,37.7 467.6,34.0 468.1,30.3 467.4,26.7 466.6,23.0 465.4,23.0 461.4,23.0 461.3,23.0 461.4,23.3 462.4,26.7 463.4,30.3 463.2,34.0 462.8,37.7 463.1,41.3 464.7,45.0 465.4,46.4 466.5,48.7 467.5,52.3 468.0,56.0 468.4,59.7 468.7,63.3 469.0,67.0 469.4,68.2 470.0,70.7 471.3,74.4 472.1,78.0 472.9,81.7 473.3,83.7 473.7,85.4 474.4,89.0 475.1,92.7 475.4,96.4 475.8,100.0 476.2,103.7 476.6,107.4 477.0,111.0 477.3,114.4 477.4,114.7 477.7,118.4 478.1,122.0 479.4,125.7 480.8,129.4 481.3,130.6 482.2,133.0 483.5,136.7 484.9,140.4 485.3,141.3 486.2,144.0 487.6,147.7 489.0,151.4 489.3,152.7 489.7,155.0 490.4,158.7 491.0,162.4 491.7,166.1 492.3,169.7 493.1,173.4 493.3,173.7 494.8,177.1 496.6,180.7 497.3,181.9 498.2,184.4 498.8,188.1 499.5,191.7 500.1,195.4 500.7,199.1 501.2,202.1 501.3,202.7 501.8,206.4 504.0,206.4ZM549.1,206.4 551.2,206.4 550.7,202.7 550.3,199.1 550.1,195.4 549.8,191.7 549.7,188.1 549.5,184.4 549.1,180.7 549.1,180.4 548.7,177.1 548.6,173.4 549.0,169.7 549.1,169.6 549.5,166.1 549.4,162.4 549.1,160.7 548.7,158.7 547.9,155.0 547.1,151.4 546.1,147.7 545.1,144.1 545.1,144.0 544.1,140.4 541.9,136.7 541.1,134.3 540.7,133.0 539.9,129.4 539.0,125.7 537.1,124.2 534.9,122.0 533.7,118.4 533.1,116.5 532.6,114.7 531.5,111.0 530.4,107.4 529.3,103.7 529.1,103.3 528.2,100.0 526.4,96.4 525.2,94.9 523.6,92.7 521.7,89.0 521.2,87.9 520.1,85.4 519.0,81.7 518.1,78.0 517.7,74.4 519.3,70.7 520.4,67.0 520.3,63.3 517.2,60.1 516.9,59.7 515.9,56.0 514.0,52.3 513.5,48.7 513.2,47.6 512.4,45.0 512.3,41.3 513.2,38.6 513.6,37.7 515.7,34.0 517.2,31.0 517.6,30.3 517.4,26.7 517.2,24.6 517.0,23.0 513.2,23.0 510.3,23.0 511.0,26.7 511.4,30.3 510.3,34.0 509.2,36.8 508.9,37.7 508.3,41.3 508.9,45.0 509.2,46.0 510.1,48.7 510.6,52.3 511.4,56.0 511.7,59.7 513.2,63.2 513.3,63.3 513.6,67.0 513.7,70.7 513.8,74.4 514.5,78.0 515.4,81.7 516.4,85.4 517.2,88.2 517.5,89.0 518.9,92.7 520.8,96.4 521.2,97.2 522.4,100.0 523.7,103.7 524.9,107.4 525.2,108.1 526.2,111.0 527.5,114.7 528.7,118.4 529.1,119.7 530.0,122.0 532.4,125.7 533.1,128.4 533.4,129.4 534.4,133.0 535.6,136.7 537.1,140.4 537.1,140.5 538.2,144.0 539.2,147.7 540.3,151.4 541.0,155.0 541.1,155.4 541.8,158.7 542.5,162.4 542.9,166.1 543.1,169.7 543.3,173.4 543.7,177.1 544.3,180.7 544.8,184.4 545.0,188.1 545.1,189.8 545.2,191.7 545.4,195.4 545.7,199.1 546.1,202.7 546.7,206.4Z" fill="#c6c6ff"/>
<path d="M501.2,206.4 501.8,206.4 501.3,202.7 501.2,202.1 500.7,199.1 500.1,195.4 499.5,191.7 498.8,188.1 498.2,184.4 497.3,181.9 496.6,180.7 494.8,177.1 493.3,173.7 493.1,173.4 492.3,169.7 491.7,166.1 491.0,162.4 490.4,158.7 489.7,155.0 489.3,152.7 489.0,151.4 487.6,147.7 486.2,144.0 485.3,141.3 484.9,140.4 483.5,136.7 482.2,133.0 481.3,130.6 480.8,129.4 479.4,125.7 478.1,122.0 477.7,118.4 477.4,114.7 477.3,114.4 477.0,111.0 476.6,107.4 476.2,103.7 475.8,100.0 475.4,96.4 475.1,92.7 474.4,89.0 473.7,85.4 473.3,83.7 472.9,81.7 472.1,78.0 471.3,74.4 470.0,70.7 469.4,68.2 469.0,67.0 468.7,63.3 468.4,59.7 468.0,56.0 467.5,52.3 466.5,48.7 465.4,46.4 464.7,45.0 463.1,41.3 462.8,37.7 463.2,34.0 463.4,30.3 462.4,26.7 461.4,23.3 461.3,23.0 457.4,23.0 455.4,23.0 456.8,26.7 457.4,28.1 458.2,30.3 458.3,34.0 458.3,37.7 458.8,41.3 460.4,45.0 461.4,46.9 462.3,48.7 463.3,52.3 463.9,56.0 464.4,59.7 464.7,63.3 465.1,67.0 465.4,68.1 466.1,70.7 467.4,74.4 468.2,78.0 469.0,81.7 469.4,83.2 469.8,85.4 470.6,89.0 471.2,92.7 471.6,96.4 472.0,100.0 472.3,103.7 472.7,107.4 473.1,111.0 473.3,113.9 473.4,114.7 473.8,118.4 474.1,122.0 475.6,125.7 477.2,129.4 477.3,129.7 478.7,133.0 480.2,136.7 481.3,139.2 481.8,140.4 483.3,144.0 484.8,147.7 485.3,148.7 486.3,151.4 487.0,155.0 487.4,158.7 487.9,162.4 488.3,166.1 488.8,169.7 489.3,172.7 489.4,173.4 491.6,177.1 493.3,179.5 493.9,180.7 496.0,184.4 496.6,188.1 497.1,191.7 497.3,192.4 497.7,195.4 498.2,199.1 498.8,202.7 499.3,206.4ZM553.0,206.4 556.2,206.4 555.8,202.7 555.4,199.1 555.2,195.4 554.9,191.7 554.8,188.1 554.7,184.4 554.4,180.7 554.1,177.1 554.5,173.4 555.6,169.7 556.8,166.1 557.0,162.5 557.0,162.4 557.0,162.3 556.2,158.7 555.4,155.0 554.6,151.4 553.6,147.7 553.0,145.5 552.7,144.0 551.7,140.4 549.1,136.9 548.9,136.7 547.7,133.0 547.0,129.4 546.3,125.7 545.1,125.1 541.1,122.6 540.3,122.0 539.3,118.4 538.2,114.7 537.2,111.0 537.1,110.5 536.3,107.4 535.4,103.7 534.5,100.0 533.1,97.7 532.4,96.4 529.1,93.1 528.8,92.7 526.4,89.0 525.2,87.1 524.2,85.4 522.9,81.7 522.1,78.0 522.0,74.4 525.2,70.8 525.4,70.7 527.9,67.0 527.9,63.3 525.2,61.6 522.7,59.7 521.2,56.6 520.9,56.0 517.9,52.3 517.4,48.7 517.2,48.1 516.3,45.0 516.6,41.3 517.2,40.3 518.7,37.7 521.2,34.5 521.6,34.0 524.4,30.3 524.5,26.7 524.4,23.0 521.2,23.0 517.2,23.0 517.0,23.0 517.2,24.6 517.4,26.7 517.6,30.3 517.2,31.0 515.7,34.0 513.6,37.7 513.2,38.6 512.3,41.3 512.4,45.0 513.2,47.6 513.5,48.7 514.0,52.3 515.9,56.0 516.9,59.7 517.2,60.1 520.3,63.3 520.4,67.0 519.3,70.7 517.7,74.4 518.1,78.0 519.0,81.7 520.1,85.4 521.2,87.9 521.7,89.0 523.6,92.7 525.2,94.9 526.4,96.4 528.2,100.0 529.1,103.3 529.3,103.7 530.4,107.4 531.5,111.0 532.6,114.7 533.1,116.5 533.7,118.4 534.9,122.0 537.1,124.2 539.0,125.7 539.9,129.4 540.7,133.0 541.1,134.3 541.9,136.7 544.1,140.4 545.1,144.0 545.1,144.1 546.1,147.7 547.1,151.4 547.9,155.0 548.7,158.7 549.1,160.7 549.4,162.4 549.5,166.1 549.1,169.6 549.0,169.7 548.6,173.4 548.7,177.1 549.1,180.4 549.1,180.7 549.5,184.4 549.7,188.1 549.8,191.7 550.1,195.4 550.3,199.1 550.7,202.7 551.2,206.4Z" fill="#a2a2ff"/>
<path d="M497.3,206.4 499.3,206.4 498.8,202.7 498.2,199.1 497.7,195.4 497.3,192.4 497.1,191.7 496.6,188.1 496.0,184.4 493.9,180.7 493.3,179.5 491.6,177.1 489.4,173.4 489.3,172.7 488.8,169.7 488.3,166.1 487.9,162.4 487.4,158.7 487.0,155.0 486.3,151.4 485.3,148.7 484.8,147.7 483.3,144.0 481.8,140.4 481.3,139.2 480.2,136.7 478.7,133.0 477.3,129.7 477.2,129.4 475.6,125.7 474.1,122.0 473.8,118.4 473.4,114.7 473.3,113.9 473.1,111.0 472.7,107.4 472.3,103.7 472.0,100.0 471.6,96.4 471.2,92.7 470.6,89.0 469.8,85.4 469.4,83.2 469.0,81.7 468.2,78.0 467.4,74.4 466.1,70.7 465.4,68.1 465.1,67.0 464.7,63.3 464.4,59.7 463.9,56.0 463.3,52.3 462.3,48.7 461.4,46.9 460.4,45.0 458.8,41.3 458.3,37.7 458.3,34.0 458.2,30.3 457.4,28.1 456.8,26.7 455.4,23.0 453.4,23.0 449.4,23.0 449.1,23.0 449.4,23.7 450.9,26.7 452.6,30.3 453.1,34.0 453.4,37.5 453.4,37.7 454.2,41.3 455.9,45.0 457.4,47.8 457.8,48.7 459.0,52.3 459.6,56.0 460.2,59.7 460.5,63.3 460.9,67.0 461.4,68.8 461.9,70.7 463.2,74.4 464.1,78.0 464.9,81.7 465.4,83.8 465.7,85.4 466.5,89.0 467.2,92.7 467.5,96.4 467.9,100.0 468.2,103.7 468.5,107.4 468.9,111.0 469.2,114.7 469.4,116.0 469.6,118.4 469.9,122.0 471.6,125.7 473.3,129.4 473.3,129.4 475.0,133.0 476.7,136.7 477.3,137.9 478.4,140.4 480.1,144.0 481.3,146.4 481.9,147.7 483.6,151.4 484.0,155.0 484.3,158.7 484.5,162.4 484.7,166.1 485.0,169.7 485.3,172.1 485.5,173.4 488.2,177.1 489.3,178.3 491.0,180.7 493.3,183.9 493.6,184.4 494.1,188.1 494.6,191.7 495.1,195.4 495.6,199.1 496.2,202.7 496.8,206.4ZM557.0,206.4 561.0,206.4 561.4,206.4 561.1,202.7 561.0,201.6 560.8,199.1 560.5,195.4 560.3,191.7 560.3,188.1 560.2,184.4 560.1,180.7 559.9,177.1 560.7,173.4 561.0,172.6 562.6,169.7 564.5,166.1 565.0,163.1 565.1,162.4 565.0,161.8 564.3,158.7 563.4,155.0 562.5,151.4 561.6,147.7 561.0,145.2 560.7,144.0 559.8,140.4 557.0,137.5 556.4,136.7 555.0,133.0 554.5,129.4 554.0,125.7 553.0,125.4 549.1,123.7 546.1,122.0 545.1,118.4 545.1,118.2 544.3,114.7 543.4,111.0 542.7,107.4 542.0,103.7 541.3,100.0 541.1,99.8 538.8,96.4 537.1,95.1 534.3,92.7 533.1,91.4 531.3,89.0 529.1,86.2 528.6,85.4 527.1,81.7 526.3,78.0 526.5,74.4 529.1,72.2 531.8,70.7 533.1,69.3 535.8,67.0 536.1,63.3 533.1,62.1 529.1,59.9 528.8,59.7 526.3,56.0 525.2,55.2 522.0,52.3 521.4,48.7 521.2,47.8 520.4,45.0 521.2,41.8 521.3,41.3 524.1,37.7 525.2,36.6 527.9,34.0 529.1,32.7 531.6,30.3 532.1,26.7 532.3,23.0 529.1,23.0 525.2,23.0 524.4,23.0 524.5,26.7 524.4,30.3 521.6,34.0 521.2,34.5 518.7,37.7 517.2,40.3 516.6,41.3 516.3,45.0 517.2,48.1 517.4,48.7 517.9,52.3 520.9,56.0 521.2,56.6 522.7,59.7 525.2,61.6 527.9,63.3 527.9,67.0 525.4,70.7 525.2,70.8 522.0,74.4 522.1,78.0 522.9,81.7 524.2,85.4 525.2,87.1 526.4,89.0 528.8,92.7 529.1,93.1 532.4,96.4 533.1,97.7 534.5,100.0 535.4,103.7 536.3,107.4 537.1,110.5 537.2,111.0 538.2,114.7 539.3,118.4 540.3,122.0 541.1,122.6 545.1,125.1 546.3,125.7 547.0,129.4 547.7,133.0 548.9,136.7 549.1,136.9 551.7,140.4 552.7,144.0 553.0,145.5 553.6,147.7 554.6,151.4 555.4,155.0 556.2,158.7 557.0,162.3 557.0,162.4 557.0,162.5 556.8,166.1 555.6,169.7 554.5,173.4 554.1,177.1 554.4,180.7 554.7,184.4 554.8,188.1 554.9,191.7 555.2,195.4 555.4,199.1 555.8,202.7 556.2,206.4ZM604.9,192.2 606.0,191.7 606.5,188.1 605.9,184.4 604.9,183.9 602.7,184.4 602.0,188.1 603.6,191.7Z" fill="#8080ff"/>
<path d="M496.2,202.7 495.6,199.1 495.1,195.4 494.6,191.7 494.1,188.1 493.6,184.4 493.3,183.9 491.0,180.7 489.3,178.3 488.2,177.1 485.5,173.4 485.3,172.1 485.0,169.7 484.7,166.1 484.5,162.4 484.3,158.7 484.0,155.0 483.6,151.4 481.9,147.7 481.3,146.4 480.1,144.0 478.4,140.4 477.3,137.9 476.7,136.7 475.0,133.0 473.3,129.4 473.3,129.4 471.6,125.7 469.9,122.0 469.6,118.4 469.4,116.0 469.2,114.7 468.9,111.0 468.5,107.4 468.2,103.7 467.9,100.0 467.5,96.4 467.2,92.7 466.5,89.0 465.7,85.4 465.4,83.8 464.9,81.7 464.1,78.0 463.2,74.4 461.9,70.7 461.4,68.8 460.9,67.0 460.5,63.3 460.2,59.7 459.6,56.0 459.0,52.3 457.8,48.7 457.4,47.8 455.9,45.0 454.2,41.3 453.4,37.7 453.4,37.5 453.1,34.0 452.6,30.3 450.9,26.7 449.4,23.7 449.1,23.0 445.4,23.0 442.0,23.0 444.1,26.7 445.4,28.6 446.2,30.3 446.8,34.0 447.5,37.7 449.1,41.3 449.4,42.0 450.4,45.0 452.8,48.7 453.4,50.1 453.9,52.3 454.5,56.0 455.1,59.7 455.5,63.3 456.0,67.0 457.4,70.4 457.5,70.7 458.5,74.4 459.4,78.0 460.3,81.7 461.4,85.3 461.4,85.4 462.1,89.0 462.8,92.7 463.0,96.4 463.2,100.0 463.5,103.7 463.8,107.4 464.2,111.0 464.5,114.7 465.0,118.4 465.4,121.1 465.4,122.0 466.7,125.7 469.1,129.4 469.4,129.9 470.3,133.0 472.6,136.7 473.3,138.0 474.1,140.4 476.0,144.0 477.3,146.1 477.8,147.7 479.5,151.4 480.1,155.0 480.2,158.7 480.3,162.4 480.4,166.1 480.5,169.7 481.1,173.4 481.3,173.6 484.2,177.1 485.3,177.8 487.7,180.7 489.3,181.9 491.3,184.4 491.6,188.1 492.0,191.7 492.4,195.4 492.9,199.1 493.3,201.6 493.4,202.7 494.2,206.4 496.8,206.4ZM565.0,206.4 567.8,206.4 567.6,202.7 567.3,199.1 567.0,195.4 566.8,191.7 566.8,188.1 566.8,184.4 566.7,180.7 566.7,177.1 568.0,173.4 569.0,171.5 570.7,169.7 572.8,166.1 573.0,165.3 574.5,162.4 573.0,158.9 572.9,158.7 572.5,155.0 572.0,151.4 571.1,147.7 569.8,144.0 569.0,142.0 568.7,140.4 565.0,137.8 563.8,136.7 562.1,133.0 561.9,129.4 561.6,125.7 561.0,125.0 557.0,123.7 553.0,122.7 551.8,122.0 550.9,118.4 550.3,114.7 549.5,111.0 549.2,107.4 549.1,106.1 548.7,103.7 548.1,100.0 545.5,96.4 545.1,96.0 541.1,93.3 540.3,92.7 537.1,89.6 536.6,89.0 533.2,85.4 533.1,85.1 531.6,81.7 530.8,78.0 531.4,74.4 533.1,73.2 537.1,71.3 538.8,70.7 541.1,69.0 544.2,67.0 544.5,63.3 541.1,61.9 537.1,60.4 535.6,59.7 533.1,57.7 531.7,56.0 529.1,54.9 525.9,52.3 525.4,48.7 525.2,47.5 524.2,45.0 525.2,43.0 526.0,41.3 529.1,38.1 529.7,37.7 533.1,34.9 534.3,34.0 537.1,31.6 538.7,30.3 539.6,26.7 540.2,23.0 537.1,23.0 533.1,23.0 532.3,23.0 532.1,26.7 531.6,30.3 529.1,32.7 527.9,34.0 525.2,36.6 524.1,37.7 521.3,41.3 521.2,41.8 520.4,45.0 521.2,47.8 521.4,48.7 522.0,52.3 525.2,55.2 526.3,56.0 528.8,59.7 529.1,59.9 533.1,62.1 536.1,63.3 535.8,67.0 533.1,69.3 531.8,70.7 529.1,72.2 526.5,74.4 526.3,78.0 527.1,81.7 528.6,85.4 529.1,86.2 531.3,89.0 533.1,91.4 534.3,92.7 537.1,95.1 538.8,96.4 541.1,99.8 541.3,100.0 542.0,103.7 542.7,107.4 543.4,111.0 544.3,114.7 545.1,118.2 545.1,118.4 546.1,122.0 549.1,123.7 553.0,125.4 554.0,125.7 554.5,129.4 555.0,133.0 556.4,136.7 557.0,137.5 559.8,140.4 560.7,144.0 561.0,145.2 561.6,147.7 562.5,151.4 563.4,155.0 564.3,158.7 565.0,161.8 565.1,162.4 565.0,163.1 564.5,166.1 562.6,169.7 561.0,172.6 560.7,173.4 559.9,177.1 560.1,180.7 560.2,184.4 560.3,188.1 560.3,191.7 560.5,195.4 560.8,199.1 561.0,201.6 561.1,202.7 561.4,206.4ZM592.9,192.1 596.9,193.5 600.9,194.1 604.9,194.7 608.8,194.1 612.8,194.0 616.8,194.0 620.8,194.0 620.8,191.7 620.8,188.1 620.8,184.4 620.8,182.5 616.8,182.4 612.8,182.0 608.8,182.0 604.9,181.4 600.9,181.6 596.9,182.0 592.9,182.1 588.9,182.8 586.6,184.4 587.7,188.1 588.9,189.2 592.4,191.7ZM603.6,191.7 602.0,188.1 602.7,184.4 604.9,183.9 605.9,184.4 606.5,188.1 606.0,191.7 604.9,192.2Z" fill="#5a5aff"/>
<path d="M433.5,206.4 437.5,206.4 441.5,206.4 445.4,206.4 449.4,206.4 451.6,206.4 451.6,202.7 451.6,199.1 450.6,195.4 449.4,194.4 445.9,191.7 445.4,191.3 441.5,188.8 440.0,188.1 437.5,187.0 433.5,187.0 432.2,188.1 431.4,191.7 431.4,195.4 431.4,199.1 431.4,202.7 431.4,206.4ZM493.3,206.4 494.2,206.4 493.4,202.7 493.3,201.6 492.9,199.1 492.4,195.4 492.0,191.7 491.6,188.1 491.3,184.4 489.3,181.9 487.7,180.7 485.3,177.8 484.2,177.1 481.3,173.6 481.1,173.4 480.5,169.7 480.4,166.1 480.3,162.4 480.2,158.7 480.1,155.0 479.5,151.4 477.8,147.7 477.3,146.1 476.0,144.0 474.1,140.4 473.3,138.0 472.6,136.7 470.3,133.0 469.4,129.9 469.1,129.4 466.7,125.7 465.4,122.0 465.4,121.1 465.0,118.4 464.5,114.7 464.2,111.0 463.8,107.4 463.5,103.7 463.2,100.0 463.0,96.4 462.8,92.7 462.1,89.0 461.4,85.4 461.4,85.3 460.3,81.7 459.4,78.0 458.5,74.4 457.5,70.7 457.4,70.4 456.0,67.0 455.5,63.3 455.1,59.7 454.5,56.0 453.9,52.3 453.4,50.1 452.8,48.7 450.4,45.0 449.4,42.0 449.1,41.3 447.5,37.7 446.8,34.0 446.2,30.3 445.4,28.6 444.1,26.7 442.0,23.0 441.5,23.0 437.5,23.0 433.5,23.0 429.5,23.0 429.5,26.7 429.5,30.3 429.5,34.0 429.5,35.0 433.5,35.1 436.3,37.7 437.0,41.3 437.5,41.8 440.4,45.0 441.5,46.9 443.0,48.7 444.6,52.3 445.4,55.5 445.6,56.0 447.9,59.7 448.3,63.3 448.6,67.0 449.4,68.5 450.5,70.7 452.1,74.4 453.0,78.0 453.4,78.7 454.8,81.7 455.8,85.4 456.5,89.0 457.4,91.5 457.7,92.7 457.6,96.4 457.5,100.0 457.5,103.7 457.4,107.4 457.4,107.9 457.3,111.0 457.3,114.7 457.2,118.4 457.2,122.0 457.4,122.4 459.3,125.7 460.3,129.4 461.2,133.0 461.4,133.3 463.5,136.7 464.5,140.4 465.3,144.0 465.4,144.2 467.6,147.7 468.6,151.4 468.8,155.0 469.2,158.7 469.4,160.0 469.8,162.4 471.0,166.1 471.7,169.7 472.5,173.4 473.3,173.8 477.3,176.5 478.0,177.1 481.3,179.0 483.5,180.7 485.3,182.3 488.4,184.4 489.1,188.1 489.3,189.1 489.5,191.7 489.7,195.4 490.0,199.1 490.6,202.7 491.0,206.4ZM569.0,206.4 573.0,206.4 577.0,206.4 580.9,206.4 584.9,206.4 588.9,206.4 592.9,206.4 596.9,206.4 600.9,206.4 604.9,206.4 608.8,206.4 612.8,206.4 616.8,206.4 620.8,206.4 620.8,202.7 620.8,199.1 620.8,195.4 620.8,194.0 616.8,194.0 612.8,194.0 608.8,194.1 604.9,194.7 600.9,194.1 596.9,193.5 592.9,192.1 592.4,191.7 588.9,189.2 587.7,188.1 586.6,184.4 588.9,182.8 592.9,182.1 596.9,182.0 600.9,181.6 604.9,181.4 608.8,182.0 612.8,182.0 616.8,182.4 620.8,182.5 620.8,180.7 620.8,177.1 620.8,173.7 616.8,173.7 612.8,173.7 608.8,173.7 604.9,173.7 604.3,173.4 601.2,169.7 601.2,166.1 601.3,162.4 601.3,158.7 604.9,156.8 608.8,156.1 611.3,155.0 612.8,152.8 613.3,151.4 612.8,147.9 612.8,147.7 608.8,146.1 604.9,145.8 600.9,145.7 597.2,144.0 596.9,143.8 594.5,140.4 592.9,136.8 592.6,136.7 588.9,136.2 584.9,136.2 580.9,136.2 577.0,136.2 573.0,135.9 569.0,135.1 566.9,133.0 566.6,129.4 566.6,125.7 567.6,122.0 569.0,121.0 573.0,121.0 577.0,121.0 580.9,121.0 584.9,121.0 588.9,121.0 592.9,121.0 596.9,121.0 600.9,121.0 604.9,121.0 608.8,121.0 612.8,121.0 616.8,121.0 620.8,121.0 620.8,118.4 620.8,114.7 620.8,114.2 616.8,114.2 612.8,114.2 608.8,114.2 604.9,114.2 600.9,114.2 596.9,114.2 592.9,114.2 588.9,114.2 584.9,114.2 580.9,114.2 577.0,114.2 573.0,114.2 569.0,114.2 565.0,114.2 561.0,114.2 557.0,113.8 553.0,111.1 553.0,111.0 553.0,110.9 553.3,107.4 553.4,103.7 553.5,100.0 553.0,98.7 551.7,96.4 549.1,93.6 548.0,92.7 545.1,90.7 543.1,89.0 541.1,87.7 538.4,85.4 537.1,83.2 536.1,81.7 535.3,78.0 536.5,74.4 537.1,74.1 541.1,72.0 545.1,71.1 546.3,70.7 549.1,68.9 553.0,67.4 553.6,67.0 553.0,65.1 552.5,63.3 549.1,61.6 545.1,60.4 543.5,59.7 541.1,58.9 537.1,57.0 536.0,56.0 533.1,54.8 529.1,52.8 528.6,52.3 527.9,48.7 527.0,45.0 529.1,42.3 530.6,41.3 533.1,39.1 534.8,37.7 537.1,35.9 539.2,34.0 541.1,32.5 545.1,31.2 549.1,31.7 553.0,31.7 557.0,31.7 561.0,31.7 565.0,31.6 566.3,30.3 565.0,29.5 561.0,29.3 557.0,29.3 553.0,29.3 549.1,29.2 545.1,27.8 544.8,26.7 545.1,25.1 545.3,23.0 545.1,23.0 541.1,23.0 540.2,23.0 539.6,26.7 538.7,30.3 537.1,31.6 534.3,34.0 533.1,34.9 529.7,37.7 529.1,38.1 526.0,41.3 525.2,43.0 524.2,45.0 525.2,47.5 525.4,48.7 525.9,52.3 529.1,54.9 531.7,56.0 533.1,57.7 535.6,59.7 537.1,60.4 541.1,61.9 544.5,63.3 544.2,67.0 541.1,69.0 538.8,70.7 537.1,71.3 533.1,73.2 531.4,74.4 530.8,78.0 531.6,81.7 533.1,85.1 533.2,85.4 536.6,89.0 537.1,89.6 540.3,92.7 541.1,93.3 545.1,96.0 545.5,96.4 548.1,100.0 548.7,103.7 549.1,106.1 549.2,107.4 549.5,111.0 550.3,114.7 550.9,118.4 551.8,122.0 553.0,122.7 557.0,123.7 561.0,125.0 561.6,125.7 561.9,129.4 562.1,133.0 563.8,136.7 565.0,137.8 568.7,140.4 569.0,142.0 569.8,144.0 571.1,147.7 572.0,151.4 572.5,155.0 572.9,158.7 573.0,158.9 574.5,162.4 573.0,165.3 572.8,166.1 570.7,169.7 569.0,171.5 568.0,173.4 566.7,177.1 566.7,180.7 566.8,184.4 566.8,188.1 566.8,191.7 567.0,195.4 567.3,199.1 567.6,202.7 567.8,206.4ZM441.5,182.0 445.4,182.0 447.5,180.7 448.4,177.1 448.4,173.4 448.4,169.7 448.2,166.1 445.4,163.7 441.5,164.3 439.5,166.1 439.4,169.7 439.4,173.4 439.4,177.1 440.0,180.7ZM457.4,178.5 461.4,180.2 463.0,177.1 461.4,174.9 457.4,176.0 456.5,177.1ZM430.0,173.4 432.4,169.7 432.4,166.1 432.4,162.4 432.4,158.7 431.2,155.0 429.5,154.0 429.5,155.0 429.5,158.7 429.5,162.4 429.5,166.1 429.5,169.7 429.5,173.4 429.5,173.7ZM453.4,156.5 454.8,155.0 454.9,151.4 453.4,149.8 451.8,151.4 451.9,155.0ZM441.5,136.0 445.4,136.2 447.6,133.0 447.6,129.4 447.6,125.7 447.6,122.0 447.5,118.4 445.4,116.5 441.5,116.7 439.7,118.4 439.6,122.0 439.6,125.7 439.6,129.4 439.6,133.0ZM432.3,129.4 431.9,125.7 429.5,124.1 429.5,125.7 429.5,129.4 429.5,131.3ZM437.5,108.9 441.5,108.0 442.2,107.4 441.5,105.4 439.3,103.7 437.5,103.5 436.7,103.7 435.1,107.4Z" fill="#2d2dfa"/>
<path d="M431.4,202.7 431.4,199.1 431.4,195.4 431.4,191.7 432.2,188.1 433.5,187.0 437.5,187.0 440.0,188.1 441.5,188.8 445.4,191.3 445.9,191.7 449.4,194.4 450.6,195.4 451.6,199.1 451.6,202.7 451.6,206.4 453.4,206.4 457.4,206.4 461.4,206.4 464.5,206.4 463.8,202.7 463.4,199.1 463.4,195.4 464.1,191.7 464.2,188.1 464.2,184.4 465.4,182.2 466.1,180.7 466.7,177.1 469.4,174.8 473.3,176.0 474.7,177.1 477.3,179.8 478.8,180.7 479.5,184.4 479.8,188.1 480.8,191.7 480.8,195.4 480.0,199.1 479.7,202.7 479.7,206.4 481.3,206.4 485.3,206.4 489.3,206.4 491.0,206.4 490.6,202.7 490.0,199.1 489.7,195.4 489.5,191.7 489.3,189.1 489.1,188.1 488.4,184.4 485.3,182.3 483.5,180.7 481.3,179.0 478.0,177.1 477.3,176.5 473.3,173.8 472.5,173.4 471.7,169.7 471.0,166.1 469.8,162.4 469.4,160.0 469.2,158.7 468.8,155.0 468.6,151.4 467.6,147.7 465.4,144.2 465.3,144.0 464.5,140.4 463.5,136.7 461.4,133.3 461.2,133.0 460.3,129.4 459.3,125.7 457.4,122.4 457.2,122.0 457.2,118.4 457.3,114.7 457.3,111.0 457.4,107.9 457.4,107.4 457.5,103.7 457.5,100.0 457.6,96.4 457.7,92.7 457.4,91.5 456.5,89.0 455.8,85.4 454.8,81.7 453.4,78.7 453.0,78.0 452.1,74.4 450.5,70.7 449.4,68.5 448.6,67.0 448.3,63.3 447.9,59.7 445.6,56.0 445.4,55.5 444.6,52.3 443.0,48.7 441.5,46.9 440.4,45.0 437.5,41.8 437.0,41.3 436.3,37.7 433.5,35.1 429.5,35.0 429.5,37.7 429.5,41.3 429.5,45.0 429.5,48.7 429.5,52.3 429.5,56.0 429.5,59.7 429.5,63.3 429.5,67.0 429.5,70.7 429.5,74.4 429.5,78.0 429.5,81.7 429.5,85.4 429.5,86.7 433.5,86.7 437.5,86.7 441.5,87.2 443.5,89.0 445.4,91.5 446.7,92.7 446.9,96.4 445.7,100.0 445.4,100.3 441.5,100.8 437.5,100.7 433.5,101.0 429.5,101.3 429.5,103.7 429.5,107.4 429.5,111.0 429.5,114.7 429.5,118.4 429.5,122.0 429.5,124.1 431.9,125.7 432.3,129.4 429.5,131.3 429.5,133.0 429.5,136.7 429.5,140.4 429.5,144.0 429.5,147.7 429.5,151.4 429.5,154.0 431.2,155.0 432.4,158.7 432.4,162.4 432.4,166.1 432.4,169.7 430.0,173.4 429.5,173.7 429.5,177.1 429.5,180.7 429.5,184.4 429.5,188.1 429.5,191.7 429.5,195.4 429.5,199.1 429.5,202.7 429.5,206.4 431.4,206.4ZM440.0,180.7 439.4,177.1 439.4,173.4 439.4,169.7 439.5,166.1 441.5,164.3 445.4,163.7 448.2,166.1 448.4,169.7 448.4,173.4 448.4,177.1 447.5,180.7 445.4,182.0 441.5,182.0ZM456.5,177.1 457.4,176.0 461.4,174.9 463.0,177.1 461.4,180.2 457.4,178.5ZM460.1,166.1 459.2,162.4 459.2,158.7 459.2,155.0 459.2,151.4 461.4,148.9 463.5,151.4 463.5,155.0 463.5,158.7 463.5,162.4 462.7,166.1 461.4,167.2ZM451.9,155.0 451.8,151.4 453.4,149.8 454.9,151.4 454.8,155.0 453.4,156.5ZM439.6,133.0 439.6,129.4 439.6,125.7 439.6,122.0 439.7,118.4 441.5,116.7 445.4,116.5 447.5,118.4 447.6,122.0 447.6,125.7 447.6,129.4 447.6,133.0 445.4,136.2 441.5,136.0ZM435.1,107.4 436.7,103.7 437.5,103.5 439.3,103.7 441.5,105.4 442.2,107.4 441.5,108.0 437.5,108.9ZM604.9,173.7 608.8,173.7 612.8,173.7 616.8,173.7 620.8,173.7 620.8,173.4 620.8,169.7 620.8,166.1 620.8,162.4 620.8,158.7 620.8,155.0 620.8,151.4 620.8,147.7 620.8,144.0 620.8,140.4 620.8,136.7 620.8,133.0 620.8,129.4 620.8,125.7 620.8,122.0 620.8,121.0 616.8,121.0 612.8,121.0 608.8,121.0 604.9,121.0 600.9,121.0 596.9,121.0 592.9,121.0 588.9,121.0 584.9,121.0 580.9,121.0 577.0,121.0 573.0,121.0 569.0,121.0 567.6,122.0 566.6,125.7 566.6,129.4 566.9,133.0 569.0,135.1 573.0,135.9 577.0,136.2 580.9,136.2 584.9,136.2 588.9,136.2 592.6,136.7 592.9,136.8 594.5,140.4 596.9,143.8 597.2,144.0 600.9,145.7 604.9,145.8 608.8,146.1 612.8,147.7 612.8,147.9 613.3,151.4 612.8,152.8 611.3,155.0 608.8,156.1 604.9,156.8 601.3,158.7 601.3,162.4 601.2,166.1 601.2,169.7 604.3,173.4ZM553.0,111.1 557.0,113.8 561.0,114.2 565.0,114.2 569.0,114.2 573.0,114.2 577.0,114.2 580.9,114.2 584.9,114.2 588.9,114.2 592.9,114.2 596.9,114.2 600.9,114.2 604.9,114.2 608.8,114.2 612.8,114.2 616.8,114.2 620.8,114.2 620.8,112.2 616.8,112.2 612.8,112.2 608.8,112.2 604.9,112.2 600.9,112.2 596.9,112.2 592.9,112.2 588.9,112.2 584.9,112.2 580.9,112.2 577.0,112.2 573.0,112.2 569.0,112.2 565.0,112.2 561.0,112.2 557.0,111.1 556.9,111.0 556.8,107.4 556.8,103.7 556.8,100.0 557.0,99.6 561.0,97.7 565.0,97.7 569.0,97.7 573.0,97.7 577.0,97.7 580.9,97.7 584.9,97.7 588.9,97.7 592.9,97.7 596.9,97.7 600.9,97.6 602.3,96.4 602.7,92.7 600.9,90.4 596.9,90.3 592.9,90.3 588.9,90.3 584.9,90.3 580.9,90.2 578.6,89.0 577.0,88.2 573.0,88.2 569.0,88.2 565.0,88.2 561.0,88.2 557.0,88.0 553.0,87.4 549.1,87.0 545.1,85.6 544.5,85.4 541.1,83.7 539.7,81.7 539.4,78.0 540.3,74.4 541.1,73.9 545.1,73.3 549.1,72.5 553.0,71.8 556.2,70.7 557.0,70.3 561.0,69.5 562.8,67.0 563.2,63.3 561.5,59.7 561.0,59.5 557.0,58.3 553.0,58.1 549.1,57.9 545.1,57.1 541.1,56.5 540.2,56.0 537.1,54.0 533.1,53.1 531.7,52.3 530.9,48.7 530.5,45.0 533.1,43.7 537.1,43.7 541.1,43.7 545.1,43.7 549.1,43.7 553.0,43.7 557.0,43.7 561.0,43.7 565.0,43.7 569.0,43.7 573.0,43.7 577.0,43.7 580.9,43.7 584.9,43.7 588.9,43.6 592.9,43.1 596.9,43.1 600.9,43.1 604.9,43.1 608.8,43.1 612.8,43.1 616.8,43.1 620.8,43.1 620.8,41.3 620.8,40.2 616.8,40.2 612.8,40.2 608.8,40.2 604.9,40.2 600.9,40.2 596.9,40.2 592.9,40.2 590.3,37.7 592.9,34.8 596.9,34.8 600.9,34.8 604.9,34.8 608.8,34.8 612.8,34.8 616.8,34.8 620.8,34.8 620.8,34.0 620.8,30.3 620.8,29.2 616.8,29.2 612.8,29.2 608.8,28.7 604.9,28.7 600.9,28.7 596.9,28.7 592.9,28.2 588.9,28.2 584.9,28.2 580.9,28.0 577.3,26.7 577.0,26.5 573.0,26.5 569.0,26.5 565.0,25.8 561.0,25.3 557.0,25.3 553.0,25.3 549.1,24.3 548.3,23.0 545.3,23.0 545.1,25.1 544.8,26.7 545.1,27.8 549.1,29.2 553.0,29.3 557.0,29.3 561.0,29.3 565.0,29.5 566.3,30.3 565.0,31.6 561.0,31.7 557.0,31.7 553.0,31.7 549.1,31.7 545.1,31.2 541.1,32.5 539.2,34.0 537.1,35.9 534.8,37.7 533.1,39.1 530.6,41.3 529.1,42.3 527.0,45.0 527.9,48.7 528.6,52.3 529.1,52.8 533.1,54.8 536.0,56.0 537.1,57.0 541.1,58.9 543.5,59.7 545.1,60.4 549.1,61.6 552.5,63.3 553.0,65.1 553.6,67.0 553.0,67.4 549.1,68.9 546.3,70.7 545.1,71.1 541.1,72.0 537.1,74.1 536.5,74.4 535.3,78.0 536.1,81.7 537.1,83.2 538.4,85.4 541.1,87.7 543.1,89.0 545.1,90.7 548.0,92.7 549.1,93.6 551.7,96.4 553.0,98.7 553.5,100.0 553.4,103.7 553.3,107.4 553.0,110.9 553.0,111.0Z" fill="#0505f5"/>
<path d="M465.4,206.4 469.4,206.4 473.3,206.4 477.3,206.4 479.7,206.4 479.7,202.7 480.0,199.1 480.8,195.4 480.8,191.7 479.8,188.1 479.5,184.4 478.8,180.7 477.3,179.8 474.7,177.1 473.3,176.0 469.4,174.8 466.7,177.1 466.1,180.7 465.4,182.2 464.2,184.4 464.2,188.1 464.1,191.7 463.4,195.4 463.4,199.1 463.8,202.7 464.5,206.4ZM461.4,167.2 462.7,166.1 463.5,162.4 463.5,158.7 463.5,155.0 463.5,151.4 461.4,148.9 459.2,151.4 459.2,155.0 459.2,158.7 459.2,162.4 460.1,166.1ZM557.0,111.1 561.0,112.2 565.0,112.2 569.0,112.2 573.0,112.2 577.0,112.2 580.9,112.2 584.9,112.2 588.9,112.2 592.9,112.2 596.9,112.2 600.9,112.2 604.9,112.2 608.8,112.2 612.8,112.2 616.8,112.2 620.8,112.2 620.8,111.0 620.8,107.4 620.8,103.7 620.8,100.0 620.8,96.4 620.8,92.7 620.8,89.0 620.8,85.4 620.8,81.7 620.8,78.0 620.8,74.4 620.8,70.7 620.8,67.0 620.8,63.3 620.8,59.7 620.8,56.0 620.8,52.3 620.8,48.7 620.8,45.0 620.8,43.1 616.8,43.1 612.8,43.1 608.8,43.1 604.9,43.1 600.9,43.1 596.9,43.1 592.9,43.1 588.9,43.6 584.9,43.7 580.9,43.7 577.0,43.7 573.0,43.7 569.0,43.7 565.0,43.7 561.0,43.7 557.0,43.7 553.0,43.7 549.1,43.7 545.1,43.7 541.1,43.7 537.1,43.7 533.1,43.7 530.5,45.0 530.9,48.7 531.7,52.3 533.1,53.1 537.1,54.0 540.2,56.0 541.1,56.5 545.1,57.1 549.1,57.9 553.0,58.1 557.0,58.3 561.0,59.5 561.5,59.7 563.2,63.3 562.8,67.0 561.0,69.5 557.0,70.3 556.2,70.7 553.0,71.8 549.1,72.5 545.1,73.3 541.1,73.9 540.3,74.4 539.4,78.0 539.7,81.7 541.1,83.7 544.5,85.4 545.1,85.6 549.1,87.0 553.0,87.4 557.0,88.0 561.0,88.2 565.0,88.2 569.0,88.2 573.0,88.2 577.0,88.2 578.6,89.0 580.9,90.2 584.9,90.3 588.9,90.3 592.9,90.3 596.9,90.3 600.9,90.4 602.7,92.7 602.3,96.4 600.9,97.6 596.9,97.7 592.9,97.7 588.9,97.7 584.9,97.7 580.9,97.7 577.0,97.7 573.0,97.7 569.0,97.7 565.0,97.7 561.0,97.7 557.0,99.6 556.8,100.0 556.8,103.7 556.8,107.4 556.9,111.0ZM433.5,101.0 437.5,100.7 441.5,100.8 445.4,100.3 445.7,100.0 446.9,96.4 446.7,92.7 445.4,91.5 443.5,89.0 441.5,87.2 437.5,86.7 433.5,86.7 429.5,86.7 429.5,89.0 429.5,92.7 429.5,96.4 429.5,100.0 429.5,101.3ZM592.9,40.2 596.9,40.2 600.9,40.2 604.9,40.2 608.8,40.2 612.8,40.2 616.8,40.2 620.8,40.2 620.8,37.7 620.8,34.8 616.8,34.8 612.8,34.8 608.8,34.8 604.9,34.8 600.9,34.8 596.9,34.8 592.9,34.8 590.3,37.7ZM580.9,28.0 584.9,28.2 588.9,28.2 592.9,28.2 596.9,28.7 600.9,28.7 604.9,28.7 608.8,28.7 612.8,29.2 616.8,29.2 620.8,29.2 620.8,26.7 620.8,23.0 616.8,23.0 612.8,23.0 608.8,23.0 604.9,23.0 600.9,23.0 596.9,23.0 592.9,23.0 588.9,23.0 584.9,23.0 580.9,23.0 577.0,23.0 573.0,23.0 569.0,23.0 565.0,23.0 561.0,23.0 557.0,23.0 553.0,23.0 549.1,23.0 548.3,23.0 549.1,24.3 553.0,25.3 557.0,25.3 561.0,25.3 565.0,25.8 569.0,26.5 573.0,26.5 577.0,26.5 577.3,26.7Z" fill="#00ffff"/>
<path d="M525.2,201.3 522.6,199.1 522.3,195.4 525.2,193.3 526.3,195.4 526.3,199.1ZM517.2,172.1 515.4,169.7 514.0,166.1 514.7,162.4 517.2,160.1 518.3,162.4 519.0,166.1 518.5,169.7ZM509.2,142.8 508.3,140.4 507.6,136.7 507.0,133.0 505.5,129.4 505.2,129.2 504.1,125.7 503.3,122.0 503.5,118.4 505.2,115.1 507.7,118.4 509.2,121.6 509.3,122.0 509.8,125.7 510.2,129.4 510.5,133.0 510.7,136.7 510.5,140.4 509.2,142.8M517.6,206.4 517.2,204.3 517.0,202.7 516.5,199.1 516.0,195.4 515.4,191.7 514.8,188.1 514.1,184.4 513.2,181.3 513.1,180.7 512.3,177.1 511.2,173.4 510.3,169.7 509.5,166.1 509.2,164.1 508.9,162.4 508.1,158.7 507.2,155.0 506.2,151.4 505.2,148.9 504.9,147.7 503.7,144.0 502.4,140.4 501.3,136.7 501.2,136.3 500.5,133.0 499.5,129.4 498.4,125.7 497.3,122.0 497.3,121.7 497.0,118.4 497.1,114.7 497.2,111.0 497.3,107.9 497.3,107.4 497.3,107.0 497.2,103.7 496.8,100.0 496.6,96.4 496.4,92.7 496.5,89.0 497.3,85.8 501.2,85.5 502.4,89.0 503.0,92.7 503.4,96.4 504.0,100.0 505.2,103.0 505.5,103.7 507.4,107.4 509.2,109.9 509.7,111.0 511.4,114.7 512.9,118.4 513.2,119.3 514.0,122.0 515.0,125.7 516.0,129.4 517.2,132.9 517.2,133.0 518.1,136.7 519.0,140.4 519.7,144.0 520.4,147.7 521.2,150.6 521.3,151.4 522.0,155.0 522.7,158.7 523.5,162.4 524.2,166.1 525.0,169.7 525.2,170.3 525.7,173.4 526.3,177.1 527.0,180.7 527.7,184.4 528.3,188.1 529.1,191.7 529.1,192.1 529.7,195.4 530.0,199.1 530.2,202.7 530.5,206.4M513.4,206.4 513.2,205.3 512.9,202.7 512.4,199.1 511.8,195.4 511.1,191.7 510.5,188.1 509.8,184.4 509.2,182.4 508.9,180.7 508.1,177.1 507.2,173.4 506.3,169.7 505.3,166.1 505.2,165.9 504.5,162.4 503.6,158.7 502.7,155.0 501.8,151.4 501.2,149.9 500.6,147.7 499.5,144.0 498.3,140.4 497.3,137.3 497.1,136.7 496.2,133.0 495.1,129.4 494.1,125.7 493.3,123.2 493.0,122.0 492.6,118.4 492.4,114.7 492.2,111.0 492.1,107.4 492.0,103.7 491.9,100.0 491.8,96.4 491.6,92.7 491.0,89.0 490.4,85.4 489.7,81.7 489.3,78.7 489.2,78.0 489.0,74.4 488.5,70.7 488.4,67.0 488.4,63.3 486.8,59.7 486.1,56.0 488.0,52.3 489.3,49.9 493.3,52.0 493.4,52.3 495.3,56.0 495.0,59.7 494.6,63.3 495.9,67.0 497.3,68.5 498.2,70.7 500.5,74.4 501.2,75.3 502.3,78.0 503.7,81.7 504.8,85.4 505.2,86.8 505.8,89.0 506.6,92.7 507.9,96.4 509.2,99.3 509.5,100.0 510.8,103.7 512.4,107.4 513.2,109.0 513.9,111.0 515.3,114.7 516.9,118.4 517.2,119.0 518.1,122.0 519.1,125.7 520.2,129.4 521.2,132.3 521.4,133.0 522.3,136.7 523.3,140.4 524.2,144.0 525.2,147.4 525.2,147.7 526.0,151.4 526.8,155.0 527.5,158.7 528.2,162.4 529.1,166.1 529.1,166.4 529.7,169.7 530.4,173.4 531.1,177.1 531.8,180.7 532.5,184.4 533.0,188.1 533.1,189.3 533.3,191.7 533.7,195.4 534.0,199.1 534.5,202.7 535.0,206.4M492.2,23.0 491.8,26.7 489.3,29.9 485.3,27.5 485.0,26.7 484.2,23.0M485.3,44.3 482.7,41.3 483.9,37.7 485.3,35.7 489.3,35.7 490.2,37.7 491.3,41.3 489.3,44.9ZM510.6,206.4 510.0,202.7 509.3,199.1 509.2,198.5 508.7,195.4 508.1,191.7 507.5,188.1 506.8,184.4 505.9,180.7 505.2,178.5 504.9,177.1 504.1,173.4 503.2,169.7 502.2,166.1 501.2,162.6 501.2,162.4 500.3,158.7 499.5,155.0 498.5,151.4 497.3,147.7 497.3,147.6 496.2,144.0 495.1,140.4 494.0,136.7 493.3,134.5 492.9,133.0 491.9,129.4 490.8,125.7 489.7,122.0 489.3,118.6 489.3,118.4 489.0,114.7 488.7,111.0 488.4,107.4 488.2,103.7 487.9,100.0 487.7,96.4 487.3,92.7 486.6,89.0 485.9,85.4 485.3,82.6 485.1,81.7 484.6,78.0 484.0,74.4 483.0,70.7 482.1,67.0 482.0,63.3 481.9,59.7 481.6,56.0 481.4,52.3 481.3,52.1 480.7,48.7 479.1,45.0 477.4,41.3 477.6,37.7 478.7,34.0 479.5,30.3 479.0,26.7 478.4,23.0M497.4,23.0 497.9,26.7 498.3,30.3 497.8,34.0 497.3,37.1 497.1,37.7 497.1,41.3 497.3,42.0 498.0,45.0 499.4,48.7 500.2,52.3 500.5,56.0 500.6,59.7 501.2,62.8 501.3,63.3 501.9,67.0 503.3,70.7 505.1,74.4 505.2,74.7 506.2,78.0 507.1,81.7 508.1,85.4 509.2,89.0 509.2,89.1 510.1,92.7 511.3,96.4 512.9,100.0 513.2,100.7 514.2,103.7 515.6,107.4 517.2,111.0 517.2,111.1 518.4,114.7 519.9,118.4 521.2,121.7 521.3,122.0 522.2,125.7 523.3,129.4 524.4,133.0 525.2,135.4 525.5,136.7 526.5,140.4 527.5,144.0 528.5,147.7 529.1,149.8 529.5,151.4 530.2,155.0 530.9,158.7 531.6,162.4 532.4,166.1 533.1,169.5 533.2,169.7 533.8,173.4 534.5,177.1 535.1,180.7 535.8,184.4 536.2,188.1 536.5,191.7 536.8,195.4 537.1,198.0 537.2,199.1 537.6,202.7 538.1,206.4M508.2,206.4 507.6,202.7 507.1,199.1 506.3,195.4 505.6,191.7 505.2,189.9 504.9,188.1 504.4,184.4 503.4,180.7 502.4,177.1 501.4,173.4 501.2,172.8 500.5,169.7 499.6,166.1 498.6,162.4 497.6,158.7 497.3,157.4 496.7,155.0 495.8,151.4 494.7,147.7 493.5,144.0 493.3,143.4 492.4,140.4 491.4,136.7 490.3,133.0 489.3,129.9 489.1,129.4 488.1,125.7 487.1,122.0 486.7,118.4 486.3,114.7 485.9,111.0 485.5,107.4 485.3,105.7 485.1,103.7 484.8,100.0 484.5,96.4 484.1,92.7 483.5,89.0 482.7,85.4 482.0,81.7 481.3,78.5 481.2,78.0 480.6,74.4 479.4,70.7 478.5,67.0 478.3,63.3 478.1,59.7 477.8,56.0 477.4,52.3 477.3,52.2 476.6,48.7 475.0,45.0 473.4,41.3 473.5,37.7 474.5,34.0 475.2,30.3 474.8,26.7 474.3,23.0M501.6,23.0 502.3,26.7 502.9,30.3 502.4,34.0 501.6,37.7 501.5,41.3 502.5,45.0 503.8,48.7 504.4,52.3 504.5,56.0 504.4,59.7 504.9,63.3 505.2,65.4 505.5,67.0 506.6,70.7 508.0,74.4 509.2,78.0 509.2,78.1 510.0,81.7 510.8,85.4 511.7,89.0 512.8,92.7 513.2,93.7 514.2,96.4 515.4,100.0 516.9,103.7 517.2,104.3 518.3,107.4 519.6,111.0 521.1,114.7 521.2,114.9 522.4,118.4 523.7,122.0 524.9,125.7 525.2,126.6 526.0,129.4 527.0,133.0 528.1,136.7 529.1,140.1 529.2,140.4 530.3,144.0 531.2,147.7 532.3,151.4 533.1,155.0 533.1,155.0 533.9,158.7 534.5,162.4 535.1,166.1 535.8,169.7 536.6,173.4 537.1,176.0 537.3,177.1 538.0,180.7 538.6,184.4 538.8,188.1 539.1,191.7 539.3,195.4 539.6,199.1 540.1,202.7 540.7,206.4M506.2,206.4 505.5,202.7 505.2,201.2 504.9,199.1 504.2,195.4 503.6,191.7 503.0,188.1 502.3,184.4 501.2,180.9 501.2,180.7 500.1,177.1 499.0,173.4 498.2,169.7 497.3,166.1 497.2,166.1 496.2,162.4 495.4,158.7 494.5,155.0 493.4,151.4 493.3,151.0 492.3,147.7 491.2,144.0 490.2,140.4 489.3,137.7 488.9,136.7 487.8,133.0 486.8,129.4 485.7,125.7 485.3,124.3 484.5,122.0 484.0,118.4 483.6,114.7 483.3,111.0 482.9,107.4 482.6,103.7 482.2,100.0 481.9,96.4 481.4,92.7 481.3,92.3 480.6,89.0 479.9,85.4 479.2,81.7 478.6,78.0 477.8,74.4 477.3,73.0 476.4,70.7 475.5,67.0 475.3,63.3 475.1,59.7 474.8,56.0 474.4,52.3 473.4,48.7 473.3,48.5 471.7,45.0 470.4,41.3 470.4,37.7 471.2,34.0 471.8,30.3 471.3,26.7 470.8,23.0M505.0,23.0 505.2,24.2 506.0,26.7 506.8,30.3 506.1,34.0 505.2,37.4 505.1,37.7 504.9,41.3 505.2,42.2 506.0,45.0 507.1,48.7 507.5,52.3 507.7,56.0 507.7,59.7 508.2,63.3 508.5,67.0 509.2,70.3 509.3,70.7 510.8,74.4 511.7,78.0 512.4,81.7 513.2,85.0 513.3,85.4 514.5,89.0 515.5,92.7 516.7,96.4 517.2,97.9 518.3,100.0 519.7,103.7 520.7,107.4 521.2,108.6 522.4,111.0 523.8,114.7 524.8,118.4 525.2,119.4 526.5,122.0 527.8,125.7 528.6,129.4 529.1,131.9 529.6,133.0 531.1,136.7 532.1,140.4 532.8,144.0 533.1,145.2 534.2,147.7 535.5,151.4 536.1,155.0 536.6,158.7 537.1,162.4 537.1,162.5 538.1,166.1 538.9,169.7 539.5,173.4 540.0,177.1 540.5,180.7 541.1,184.4 541.1,184.7 541.4,188.1 541.7,191.7 542.0,195.4 542.3,199.1 542.9,202.7 543.4,206.4M504.0,206.4 503.4,202.7 502.8,199.1 502.3,195.4 501.7,191.7 501.2,189.1 501.0,188.1 500.3,184.4 499.0,180.7 497.7,177.1 497.3,175.4 496.4,173.4 495.5,169.7 494.6,166.1 493.9,162.4 493.3,159.4 493.1,158.7 492.2,155.0 491.2,151.4 490.1,147.7 489.3,144.9 489.0,144.0 487.7,140.4 486.4,136.7 485.3,133.0 485.3,132.8 484.1,129.4 482.8,125.7 481.7,122.0 481.3,118.4 481.3,118.2 480.9,114.7 480.5,111.0 480.1,107.4 479.7,103.7 479.3,100.0 478.9,96.4 478.4,92.7 477.8,89.0 477.3,86.0 477.2,85.4 476.4,81.7 475.6,78.0 474.8,74.4 473.6,70.7 473.3,69.6 472.6,67.0 472.3,63.3 472.0,59.7 471.6,56.0 471.2,52.3 470.2,48.7 469.4,46.6 468.6,45.0 467.0,41.3 466.9,37.7 467.6,34.0 468.1,30.3 467.4,26.7 466.6,23.0M510.3,23.0 511.0,26.7 511.4,30.3 510.3,34.0 509.2,36.8 508.9,37.7 508.3,41.3 508.9,45.0 509.2,46.0 510.1,48.7 510.6,52.3 511.4,56.0 511.7,59.7 513.2,63.2 513.3,63.3 513.6,67.0 513.7,70.7 513.8,74.4 514.5,78.0 515.4,81.7 516.4,85.4 517.2,88.2 517.5,89.0 518.9,92.7 520.8,96.4 521.2,97.2 522.4,100.0 523.7,103.7 524.9,107.4 525.2,108.1 526.2,111.0 527.5,114.7 528.7,118.4 529.1,119.7 530.0,122.0 532.4,125.7 533.1,128.4 533.4,129.4 534.4,133.0 535.6,136.7 537.1,140.4 537.1,140.5 538.2,144.0 539.2,147.7 540.3,151.4 541.0,155.0 541.1,155.4 541.8,158.7 542.5,162.4 542.9,166.1 543.1,169.7 543.3,173.4 543.7,177.1 544.3,180.7 544.8,184.4 545.0,188.1 545.1,189.8 545.2,191.7 545.4,195.4 545.7,199.1 546.1,202.7 546.7,206.4M501.8,206.4 501.3,202.7 501.2,202.1 500.7,199.1 500.1,195.4 499.5,191.7 498.8,188.1 498.2,184.4 497.3,181.9 496.6,180.7 494.8,177.1 493.3,173.7 493.1,173.4 492.3,169.7 491.7,166.1 491.0,162.4 490.4,158.7 489.7,155.0 489.3,152.7 489.0,151.4 487.6,147.7 486.2,144.0 485.3,141.3 484.9,140.4 483.5,136.7 482.2,133.0 481.3,130.6 480.8,129.4 479.4,125.7 478.1,122.0 477.7,118.4 477.4,114.7 477.3,114.4 477.0,111.0 476.6,107.4 476.2,103.7 475.8,100.0 475.4,96.4 475.1,92.7 474.4,89.0 473.7,85.4 473.3,83.7 472.9,81.7 472.1,78.0 471.3,74.4 470.0,70.7 469.4,68.2 469.0,67.0 468.7,63.3 468.4,59.7 468.0,56.0 467.5,52.3 466.5,48.7 465.4,46.4 464.7,45.0 463.1,41.3 462.8,37.7 463.2,34.0 463.4,30.3 462.4,26.7 461.4,23.3 461.3,23.0M517.0,23.0 517.2,24.6 517.4,26.7 517.6,30.3 517.2,31.0 515.7,34.0 513.6,37.7 513.2,38.6 512.3,41.3 512.4,45.0 513.2,47.6 513.5,48.7 514.0,52.3 515.9,56.0 516.9,59.7 517.2,60.1 520.3,63.3 520.4,67.0 519.3,70.7 517.7,74.4 518.1,78.0 519.0,81.7 520.1,85.4 521.2,87.9 521.7,89.0 523.6,92.7 525.2,94.9 526.4,96.4 528.2,100.0 529.1,103.3 529.3,103.7 530.4,107.4 531.5,111.0 532.6,114.7 533.1,116.5 533.7,118.4 534.9,122.0 537.1,124.2 539.0,125.7 539.9,129.4 540.7,133.0 541.1,134.3 541.9,136.7 544.1,140.4 545.1,144.0 545.1,144.1 546.1,147.7 547.1,151.4 547.9,155.0 548.7,158.7 549.1,160.7 549.4,162.4 549.5,166.1 549.1,169.6 549.0,169.7 548.6,173.4 548.7,177.1 549.1,180.4 549.1,180.7 549.5,184.4 549.7,188.1 549.8,191.7 550.1,195.4 550.3,199.1 550.7,202.7 551.2,206.4M499.3,206.4 498.8,202.7 498.2,199.1 497.7,195.4 497.3,192.4 497.1,191.7 496.6,188.1 496.0,184.4 493.9,180.7 493.3,179.5 491.6,177.1 489.4,173.4 489.3,172.7 488.8,169.7 488.3,166.1 487.9,162.4 487.4,158.7 487.0,155.0 486.3,151.4 485.3,148.7 484.8,147.7 483.3,144.0 481.8,140.4 481.3,139.2 480.2,136.7 478.7,133.0 477.3,129.7 477.2,129.4 475.6,125.7 474.1,122.0 473.8,118.4 473.4,114.7 473.3,113.9 473.1,111.0 472.7,107.4 472.3,103.7 472.0,100.0 471.6,96.4 471.2,92.7 470.6,89.0 469.8,85.4 469.4,83.2 469.0,81.7 468.2,78.0 467.4,74.4 466.1,70.7 465.4,68.1 465.1,67.0 464.7,63.3 464.4,59.7 463.9,56.0 463.3,52.3 462.3,48.7 461.4,46.9 460.4,45.0 458.8,41.3 458.3,37.7 458.3,34.0 458.2,30.3 457.4,28.1 456.8,26.7 455.4,23.0M524.4,23.0 524.5,26.7 524.4,30.3 521.6,34.0 521.2,34.5 518.7,37.7 517.2,40.3 516.6,41.3 516.3,45.0 517.2,48.1 517.4,48.7 517.9,52.3 520.9,56.0 521.2,56.6 522.7,59.7 525.2,61.6 527.9,63.3 527.9,67.0 525.4,70.7 525.2,70.8 522.0,74.4 522.1,78.0 522.9,81.7 524.2,85.4 525.2,87.1 526.4,89.0 528.8,92.7 529.1,93.1 532.4,96.4 533.1,97.7 534.5,100.0 535.4,103.7 536.3,107.4 537.1,110.5 537.2,111.0 538.2,114.7 539.3,118.4 540.3,122.0 541.1,122.6 545.1,125.1 546.3,125.7 547.0,129.4 547.7,133.0 548.9,136.7 549.1,136.9 551.7,140.4 552.7,144.0 553.0,145.5 553.6,147.7 554.6,151.4 555.4,155.0 556.2,158.7 557.0,162.3 557.0,162.4 557.0,162.5 556.8,166.1 555.6,169.7 554.5,173.4 554.1,177.1 554.4,180.7 554.7,184.4 554.8,188.1 554.9,191.7 555.2,195.4 555.4,199.1 555.8,202.7 556.2,206.4M496.8,206.4 496.2,202.7 495.6,199.1 495.1,195.4 494.6,191.7 494.1,188.1 493.6,184.4 493.3,183.9 491.0,180.7 489.3,178.3 488.2,177.1 485.5,173.4 485.3,172.1 485.0,169.7 484.7,166.1 484.5,162.4 484.3,158.7 484.0,155.0 483.6,151.4 481.9,147.7 481.3,146.4 480.1,144.0 478.4,140.4 477.3,137.9 476.7,136.7 475.0,133.0 473.3,129.4 473.3,129.4 471.6,125.7 469.9,122.0 469.6,118.4 469.4,116.0 469.2,114.7 468.9,111.0 468.5,107.4 468.2,103.7 467.9,100.0 467.5,96.4 467.2,92.7 466.5,89.0 465.7,85.4 465.4,83.8 464.9,81.7 464.1,78.0 463.2,74.4 461.9,70.7 461.4,68.8 460.9,67.0 460.5,63.3 460.2,59.7 459.6,56.0 459.0,52.3 457.8,48.7 457.4,47.8 455.9,45.0 454.2,41.3 453.4,37.7 453.4,37.5 453.1,34.0 452.6,30.3 450.9,26.7 449.4,23.7 449.1,23.0M532.3,23.0 532.1,26.7 531.6,30.3 529.1,32.7 527.9,34.0 525.2,36.6 524.1,37.7 521.3,41.3 521.2,41.8 520.4,45.0 521.2,47.8 521.4,48.7 522.0,52.3 525.2,55.2 526.3,56.0 528.8,59.7 529.1,59.9 533.1,62.1 536.1,63.3 535.8,67.0 533.1,69.3 531.8,70.7 529.1,72.2 526.5,74.4 526.3,78.0 527.1,81.7 528.6,85.4 529.1,86.2 531.3,89.0 533.1,91.4 534.3,92.7 537.1,95.1 538.8,96.4 541.1,99.8 541.3,100.0 542.0,103.7 542.7,107.4 543.4,111.0 544.3,114.7 545.1,118.2 545.1,118.4 546.1,122.0 549.1,123.7 553.0,125.4 554.0,125.7 554.5,129.4 555.0,133.0 556.4,136.7 557.0,137.5 559.8,140.4 560.7,144.0 561.0,145.2 561.6,147.7 562.5,151.4 563.4,155.0 564.3,158.7 565.0,161.8 565.1,162.4 565.0,163.1 564.5,166.1 562.6,169.7 561.0,172.6 560.7,173.4 559.9,177.1 560.1,180.7 560.2,184.4 560.3,188.1 560.3,191.7 560.5,195.4 560.8,199.1 561.0,201.6 561.1,202.7 561.4,206.4M604.9,192.2 603.6,191.7 602.0,188.1 602.7,184.4 604.9,183.9 605.9,184.4 606.5,188.1 606.0,191.7ZM494.2,206.4 493.4,202.7 493.3,201.6 492.9,199.1 492.4,195.4 492.0,191.7 491.6,188.1 491.3,184.4 489.3,181.9 487.7,180.7 485.3,177.8 484.2,177.1 481.3,173.6 481.1,173.4 480.5,169.7 480.4,166.1 480.3,162.4 480.2,158.7 480.1,155.0 479.5,151.4 477.8,147.7 477.3,146.1 476.0,144.0 474.1,140.4 473.3,138.0 472.6,136.7 470.3,133.0 469.4,129.9 469.1,129.4 466.7,125.7 465.4,122.0 465.4,121.1 465.0,118.4 464.5,114.7 464.2,111.0 463.8,107.4 463.5,103.7 463.2,100.0 463.0,96.4 462.8,92.7 462.1,89.0 461.4,85.4 461.4,85.3 460.3,81.7 459.4,78.0 458.5,74.4 457.5,70.7 457.4,70.4 456.0,67.0 455.5,63.3 455.1,59.7 454.5,56.0 453.9,52.3 453.4,50.1 452.8,48.7 450.4,45.0 449.4,42.0 449.1,41.3 447.5,37.7 446.8,34.0 446.2,30.3 445.4,28.6 444.1,26.7 442.0,23.0M620.8,194.0 616.8,194.0 612.8,194.0 608.8,194.1 604.9,194.7 600.9,194.1 596.9,193.5 592.9,192.1 592.4,191.7 588.9,189.2 587.7,188.1 586.6,184.4 588.9,182.8 592.9,182.1 596.9,182.0 600.9,181.6 604.9,181.4 608.8,182.0 612.8,182.0 616.8,182.4 620.8,182.5M540.2,23.0 539.6,26.7 538.7,30.3 537.1,31.6 534.3,34.0 533.1,34.9 529.7,37.7 529.1,38.1 526.0,41.3 525.2,43.0 524.2,45.0 525.2,47.5 525.4,48.7 525.9,52.3 529.1,54.9 531.7,56.0 533.1,57.7 535.6,59.7 537.1,60.4 541.1,61.9 544.5,63.3 544.2,67.0 541.1,69.0 538.8,70.7 537.1,71.3 533.1,73.2 531.4,74.4 530.8,78.0 531.6,81.7 533.1,85.1 533.2,85.4 536.6,89.0 537.1,89.6 540.3,92.7 541.1,93.3 545.1,96.0 545.5,96.4 548.1,100.0 548.7,103.7 549.1,106.1 549.2,107.4 549.5,111.0 550.3,114.7 550.9,118.4 551.8,122.0 553.0,122.7 557.0,123.7 561.0,125.0 561.6,125.7 561.9,129.4 562.1,133.0 563.8,136.7 565.0,137.8 568.7,140.4 569.0,142.0 569.8,144.0 571.1,147.7 572.0,151.4 572.5,155.0 572.9,158.7 573.0,158.9 574.5,162.4 573.0,165.3 572.8,166.1 570.7,169.7 569.0,171.5 568.0,173.4 566.7,177.1 566.7,180.7 566.8,184.4 566.8,188.1 566.8,191.7 567.0,195.4 567.3,199.1 567.6,202.7 567.8,206.4M431.4,206.4 431.4,202.7 431.4,199.1 431.4,195.4 431.4,191.7 432.2,188.1 433.5,187.0 437.5,187.0 440.0,188.1 441.5,188.8 445.4,191.3 445.9,191.7 449.4,194.4 450.6,195.4 451.6,199.1 451.6,202.7 451.6,206.4M491.0,206.4 490.6,202.7 490.0,199.1 489.7,195.4 489.5,191.7 489.3,189.1 489.1,188.1 488.4,184.4 485.3,182.3 483.5,180.7 481.3,179.0 478.0,177.1 477.3,176.5 473.3,173.8 472.5,173.4 471.7,169.7 471.0,166.1 469.8,162.4 469.4,160.0 469.2,158.7 468.8,155.0 468.6,151.4 467.6,147.7 465.4,144.2 465.3,144.0 464.5,140.4 463.5,136.7 461.4,133.3 461.2,133.0 460.3,129.4 459.3,125.7 457.4,122.4 457.2,122.0 457.2,118.4 457.3,114.7 457.3,111.0 457.4,107.9 457.4,107.4 457.5,103.7 457.5,100.0 457.6,96.4 457.7,92.7 457.4,91.5 456.5,89.0 455.8,85.4 454.8,81.7 453.4,78.7 453.0,78.0 452.1,74.4 450.5,70.7 449.4,68.5 448.6,67.0 448.3,63.3 447.9,59.7 445.6,56.0 445.4,55.5 444.6,52.3 443.0,48.7 441.5,46.9 440.4,45.0 437.5,41.8 437.0,41.3 436.3,37.7 433.5,35.1 429.5,35.0M429.5,154.0 431.2,155.0 432.4,158.7 432.4,162.4 432.4,166.1 432.4,169.7 430.0,173.4 429.5,173.7M429.5,124.1 431.9,125.7 432.3,129.4 429.5,131.3M620.8,121.0 616.8,121.0 612.8,121.0 608.8,121.0 604.9,121.0 600.9,121.0 596.9,121.0 592.9,121.0 588.9,121.0 584.9,121.0 580.9,121.0 577.0,121.0 573.0,121.0 569.0,121.0 567.6,122.0 566.6,125.7 566.6,129.4 566.9,133.0 569.0,135.1 573.0,135.9 577.0,136.2 580.9,136.2 584.9,136.2 588.9,136.2 592.6,136.7 592.9,136.8 594.5,140.4 596.9,143.8 597.2,144.0 600.9,145.7 604.9,145.8 608.8,146.1 612.8,147.7 612.8,147.9 613.3,151.4 612.8,152.8 611.3,155.0 608.8,156.1 604.9,156.8 601.3,158.7 601.3,162.4 601.2,166.1 601.2,169.7 604.3,173.4 604.9,173.7 608.8,173.7 612.8,173.7 616.8,173.7 620.8,173.7M545.3,23.0 545.1,25.1 544.8,26.7 545.1,27.8 549.1,29.2 553.0,29.3 557.0,29.3 561.0,29.3 565.0,29.5 566.3,30.3 565.0,31.6 561.0,31.7 557.0,31.7 553.0,31.7 549.1,31.7 545.1,31.2 541.1,32.5 539.2,34.0 537.1,35.9 534.8,37.7 533.1,39.1 530.6,41.3 529.1,42.3 527.0,45.0 527.9,48.7 528.6,52.3 529.1,52.8 533.1,54.8 536.0,56.0 537.1,57.0 541.1,58.9 543.5,59.7 545.1,60.4 549.1,61.6 552.5,63.3 553.0,65.1 553.6,67.0 553.0,67.4 549.1,68.9 546.3,70.7 545.1,71.1 541.1,72.0 537.1,74.1 536.5,74.4 535.3,78.0 536.1,81.7 537.1,83.2 538.4,85.4 541.1,87.7 543.1,89.0 545.1,90.7 548.0,92.7 549.1,93.6 551.7,96.4 553.0,98.7 553.5,100.0 553.4,103.7 553.3,107.4 553.0,110.9 553.0,111.0 553.0,111.1 557.0,113.8 561.0,114.2 565.0,114.2 569.0,114.2 573.0,114.2 577.0,114.2 580.9,114.2 584.9,114.2 588.9,114.2 592.9,114.2 596.9,114.2 600.9,114.2 604.9,114.2 608.8,114.2 612.8,114.2 616.8,114.2 620.8,114.2M441.5,182.0 440.0,180.7 439.4,177.1 439.4,173.4 439.4,169.7 439.5,166.1 441.5,164.3 445.4,163.7 448.2,166.1 448.4,169.7 448.4,173.4 448.4,177.1 447.5,180.7 445.4,182.0 441.5,182.0M457.4,178.5 456.5,177.1 457.4,176.0 461.4,174.9 463.0,177.1 461.4,180.2ZM453.4,156.5 451.9,155.0 451.8,151.4 453.4,149.8 454.9,151.4 454.8,155.0ZM441.5,136.0 439.6,133.0 439.6,129.4 439.6,125.7 439.6,122.0 439.7,118.4 441.5,116.7 445.4,116.5 447.5,118.4 447.6,122.0 447.6,125.7 447.6,129.4 447.6,133.0 445.4,136.2ZM437.5,108.9 435.1,107.4 436.7,103.7 437.5,103.5 439.3,103.7 441.5,105.4 442.2,107.4 441.5,108.0ZM479.7,206.4 479.7,202.7 480.0,199.1 480.8,195.4 480.8,191.7 479.8,188.1 479.5,184.4 478.8,180.7 477.3,179.8 474.7,177.1 473.3,176.0 469.4,174.8 466.7,177.1 466.1,180.7 465.4,182.2 464.2,184.4 464.2,188.1 464.1,191.7 463.4,195.4 463.4,199.1 463.8,202.7 464.5,206.4M429.5,101.3 433.5,101.0 437.5,100.7 441.5,100.8 445.4,100.3 445.7,100.0 446.9,96.4 446.7,92.7 445.4,91.5 443.5,89.0 441.5,87.2 437.5,86.7 433.5,86.7 429.5,86.7M620.8,43.1 616.8,43.1 612.8,43.1 608.8,43.1 604.9,43.1 600.9,43.1 596.9,43.1 592.9,43.1 588.9,43.6 584.9,43.7 580.9,43.7 577.0,43.7 573.0,43.7 569.0,43.7 565.0,43.7 561.0,43.7 557.0,43.7 553.0,43.7 549.1,43.7 545.1,43.7 541.1,43.7 537.1,43.7 533.1,43.7 530.5,45.0 530.9,48.7 531.7,52.3 533.1,53.1 537.1,54.0 540.2,56.0 541.1,56.5 545.1,57.1 549.1,57.9 553.0,58.1 557.0,58.3 561.0,59.5 561.5,59.7 563.2,63.3 562.8,67.0 561.0,69.5 557.0,70.3 556.2,70.7 553.0,71.8 549.1,72.5 545.1,73.3 541.1,73.9 540.3,74.4 539.4,78.0 539.7,81.7 541.1,83.7 544.5,85.4 545.1,85.6 549.1,87.0 553.0,87.4 557.0,88.0 561.0,88.2 565.0,88.2 569.0,88.2 573.0,88.2 577.0,88.2 578.6,89.0 580.9,90.2 584.9,90.3 588.9,90.3 592.9,90.3 596.9,90.3 600.9,90.4 602.7,92.7 602.3,96.4 600.9,97.6 596.9,97.7 592.9,97.7 588.9,97.7 584.9,97.7 580.9,97.7 577.0,97.7 573.0,97.7 569.0,97.7 565.0,97.7 561.0,97.7 557.0,99.6 556.8,100.0 556.8,103.7 556.8,107.4 556.9,111.0 557.0,111.1 561.0,112.2 565.0,112.2 569.0,112.2 573.0,112.2 577.0,112.2 580.9,112.2 584.9,112.2 588.9,112.2 592.9,112.2 596.9,112.2 600.9,112.2 604.9,112.2 608.8,112.2 612.8,112.2 616.8,112.2 620.8,112.2M620.8,34.8 616.8,34.8 612.8,34.8 608.8,34.8 604.9,34.8 600.9,34.8 596.9,34.8 592.9,34.8 590.3,37.7 592.9,40.2 596.9,40.2 600.9,40.2 604.9,40.2 608.8,40.2 612.8,40.2 616.8,40.2 620.8,40.2M548.3,23.0 549.1,24.3 553.0,25.3 557.0,25.3 561.0,25.3 565.0,25.8 569.0,26.5 573.0,26.5 577.0,26.5 577.3,26.7 580.9,28.0 584.9,28.2 588.9,28.2 592.9,28.2 596.9,28.7 600.9,28.7 604.9,28.7 608.8,28.7 612.8,29.2 616.8,29.2 620.8,29.2M461.4,167.2 462.7,166.1 463.5,162.4 463.5,158.7 463.5,155.0 463.5,151.4 461.4,148.9 459.2,151.4 459.2,155.0 459.2,158.7 459.2,162.4 460.1,166.1Z" fill="none" stroke="#000" stroke-width="0.85" stroke-linejoin="round"/>
</g>
<rect x="429.5" y="23.5" width="191" height="183" fill="none" stroke="#000" stroke-width="1"/>
<path d="M429.5,206.5v2.5M437.46,206.5v2.5M445.42,206.5v2.5M453.38,206.5v2.5M461.33,206.5v4.5M469.29,206.5v2.5M477.25,206.5v2.5M485.21,206.5v2.5M493.17,206.5v2.5M501.12,206.5v4.5M509.08,206.5v2.5M517.04,206.5v2.5M525,206.5v2.5M532.96,206.5v2.5M540.92,206.5v4.5M548.88,206.5v2.5M556.83,206.5v2.5M564.79,206.5v2.5M572.75,206.5v2.5M580.71,206.5v4.5M588.67,206.5v2.5M596.62,206.5v2.5M604.58,206.5v2.5M612.54,206.5v2.5M620.5,206.5v4.5M429.5,206.5h-3.3M429.5,188.2h-2.2M429.5,169.9h-3.3M429.5,151.6h-2.2M429.5,133.3h-3.3M429.5,115h-2.2M429.5,96.7h-3.3M429.5,78.4h-2.2M429.5,60.1h-3.3M429.5,41.8h-2.2M429.5,23.5h-3.3" stroke="#000" stroke-width="0.8" fill="none"/>
<text x="461.33" y="218.6" font-size="8" text-anchor="middle" fill="#000">0.5</text>
<text x="501.12" y="218.6" font-size="8" text-anchor="middle" fill="#000">1.0</text>
<text x="540.92" y="218.6" font-size="8" text-anchor="middle" fill="#000">1.5</text>
<text x="580.71" y="218.6" font-size="8" text-anchor="middle" fill="#000">2.0</text>
<text x="620.5" y="218.6" font-size="8" text-anchor="middle" fill="#000">2.5</text>
<text x="423.5" y="209.4" font-size="8" text-anchor="end" fill="#000">450</text>
<text x="423.5" y="172.8" font-size="8" text-anchor="end" fill="#000">500</text>
<text x="423.5" y="136.2" font-size="8" text-anchor="end" fill="#000">550</text>
<text x="423.5" y="99.6" font-size="8" text-anchor="end" fill="#000">600</text>
<text x="423.5" y="63" font-size="8" text-anchor="end" fill="#000">650</text>
<text x="423.5" y="26.4" font-size="8" text-anchor="end" fill="#000">700</text>
<text x="482.5" y="233.6" font-size="9.8" text-anchor="start" fill="#000">Antenna Voltage (V)</text>
<text x="401.8" y="159" font-size="10.1" text-anchor="start" fill="#000" transform="rotate(-90 401.8 159)">Wavelength (nm)</text>
<text x="433.8" y="16.3" font-size="9.6" text-anchor="start" fill="#000">(1, 3) Metal Voltage = -0.9 V</text>
<text x="381.5" y="13.1" font-size="17.5" text-anchor="start" fill="#000">(b)</text>
<rect x="649.9" y="13" width="15.4" height="8.32" fill="#ffff00"/>
<rect x="649.9" y="21.02" width="15.4" height="8.32" fill="#ff0000"/>
<rect x="649.9" y="29.04" width="15.4" height="8.32" fill="#ff2828"/>
<rect x="649.9" y="37.06" width="15.4" height="8.32" fill="#ff4b4b"/>
<rect x="649.9" y="45.08" width="15.4" height="8.32" fill="#ff6e6e"/>
<rect x="649.9" y="53.1" width="15.4" height="8.32" fill="#ff9696"/>
<rect x="649.9" y="61.12" width="15.4" height="8.32" fill="#ffbebe"/>
<rect x="649.9" y="69.14" width="15.4" height="8.32" fill="#ffe2e2"/>
<rect x="649.9" y="77.16" width="15.4" height="8.32" fill="#e6e6ff"/>
<rect x="649.9" y="85.18" width="15.4" height="8.32" fill="#c4c4ff"/>
<rect x="649.9" y="93.2" width="15.4" height="8.32" fill="#a0a0ff"/>
<rect x="649.9" y="101.22" width="15.4" height="8.32" fill="#7878ff"/>
<rect x="649.9" y="109.24" width="15.4" height="8.32" fill="#5050ff"/>
<rect x="649.9" y="117.26" width="15.4" height="8.32" fill="#2828ff"/>
<rect x="649.9" y="125.28" width="15.4" height="8.32" fill="#0000ff"/>
<rect x="649.9" y="133.3" width="15.4" height="8.32" fill="#00ffff"/>
<text x="667.4" y="23.52" font-size="6.2" text-anchor="start" fill="#000">0.000</text>
<text x="667.4" y="31.54" font-size="6.2" text-anchor="start" fill="#000">1.000</text>
<text x="667.4" y="39.56" font-size="6.2" text-anchor="start" fill="#000">2.000</text>
<text x="667.4" y="47.58" font-size="6.2" text-anchor="start" fill="#000">3.000</text>
<text x="667.4" y="55.6" font-size="6.2" text-anchor="start" fill="#000">4.000</text>
<text x="667.4" y="63.62" font-size="6.2" text-anchor="start" fill="#000">5.000</text>
<text x="667.4" y="71.64" font-size="6.2" text-anchor="start" fill="#000">6.000</text>
<text x="667.4" y="79.66" font-size="6.2" text-anchor="start" fill="#000">7.000</text>
<text x="667.4" y="87.68" font-size="6.2" text-anchor="start" fill="#000">8.000</text>
<text x="667.4" y="95.7" font-size="6.2" text-anchor="start" fill="#000">9.000</text>
<text x="667.4" y="103.72" font-size="6.2" text-anchor="start" fill="#000">10.00</text>
<text x="667.4" y="111.74" font-size="6.2" text-anchor="start" fill="#000">11.00</text>
<text x="667.4" y="119.76" font-size="6.2" text-anchor="start" fill="#000">12.00</text>
<text x="667.4" y="127.78" font-size="6.2" text-anchor="start" fill="#000">13.00</text>
<text x="667.4" y="135.8" font-size="6.2" text-anchor="start" fill="#000">14.00</text>
<path d="M430.5,473.5v-3M430.5,281.5v3M435.1,473.5v-1.8M435.1,281.5v1.8M439.69,473.5v-1.8M439.69,281.5v1.8M444.29,473.5v-1.8M444.29,281.5v1.8M448.88,473.5v-1.8M448.88,281.5v1.8M453.48,473.5v-3M453.48,281.5v3M458.07,473.5v-1.8M458.07,281.5v1.8M462.67,473.5v-1.8M462.67,281.5v1.8M467.26,473.5v-1.8M467.26,281.5v1.8M471.86,473.5v-1.8M471.86,281.5v1.8M476.45,473.5v-3M476.45,281.5v3M481.05,473.5v-1.8M481.05,281.5v1.8M485.64,473.5v-1.8M485.64,281.5v1.8M490.24,473.5v-1.8M490.24,281.5v1.8M494.83,473.5v-1.8M494.83,281.5v1.8M499.43,473.5v-3M499.43,281.5v3M504.02,473.5v-1.8M504.02,281.5v1.8M508.62,473.5v-1.8M508.62,281.5v1.8M513.21,473.5v-1.8M513.21,281.5v1.8M517.81,473.5v-1.8M517.81,281.5v1.8M522.4,473.5v-3M522.4,281.5v3M527,473.5v-1.8M527,281.5v1.8M531.6,473.5v-1.8M531.6,281.5v1.8M536.19,473.5v-1.8M536.19,281.5v1.8M540.79,473.5v-1.8M540.79,281.5v1.8M545.38,473.5v-3M545.38,281.5v3M549.98,473.5v-1.8M549.98,281.5v1.8M554.57,473.5v-1.8M554.57,281.5v1.8M559.17,473.5v-1.8M559.17,281.5v1.8M563.76,473.5v-1.8M563.76,281.5v1.8M568.36,473.5v-3M568.36,281.5v3M572.95,473.5v-1.8M572.95,281.5v1.8M577.55,473.5v-1.8M577.55,281.5v1.8M582.14,473.5v-1.8M582.14,281.5v1.8M586.74,473.5v-1.8M586.74,281.5v1.8M591.33,473.5v-3M591.33,281.5v3M595.93,473.5v-1.8M595.93,281.5v1.8M600.52,473.5v-1.8M600.52,281.5v1.8M605.12,473.5v-1.8M605.12,281.5v1.8M609.71,473.5v-1.8M609.71,281.5v1.8M614.31,473.5v-3M614.31,281.5v3M618.9,473.5v-1.8M618.9,281.5v1.8M623.5,473.5v-1.8M623.5,281.5v1.8M430.5,473.5h3M623.5,473.5h-3M430.5,457.5h1.8M623.5,457.5h-1.8M430.5,441.5h3M623.5,441.5h-3M430.5,425.5h1.8M623.5,425.5h-1.8M430.5,409.5h3M623.5,409.5h-3M430.5,393.5h1.8M623.5,393.5h-1.8M430.5,377.5h3M623.5,377.5h-3M430.5,361.5h1.8M623.5,361.5h-1.8M430.5,345.5h3M623.5,345.5h-3M430.5,329.5h1.8M623.5,329.5h-1.8M430.5,313.5h3M623.5,313.5h-3M430.5,297.5h1.8M623.5,297.5h-1.8M430.5,281.5h3M623.5,281.5h-3" stroke="#444" stroke-width="0.9" fill="none"/>
<rect x="430.5" y="281.5" width="193" height="192" fill="none" stroke="#444" stroke-width="1.2"/>
<text x="430.5" y="484.3" font-size="9" text-anchor="middle" fill="#000">0.0</text>
<text x="453.52" y="484.3" font-size="9" text-anchor="middle" fill="#000">0.5</text>
<text x="476.55" y="484.3" font-size="9" text-anchor="middle" fill="#000">1.0</text>
<text x="499.57" y="484.3" font-size="9" text-anchor="middle" fill="#000">1.5</text>
<text x="522.6" y="484.3" font-size="9" text-anchor="middle" fill="#000">2.0</text>
<text x="545.62" y="484.3" font-size="9" text-anchor="middle" fill="#000">2.5</text>
<text x="568.65" y="484.3" font-size="9" text-anchor="middle" fill="#000">3.0</text>
<text x="591.67" y="484.3" font-size="9" text-anchor="middle" fill="#000">3.5</text>
<text x="614.7" y="484.3" font-size="9" text-anchor="middle" fill="#000">4.0</text>
<text x="427.3" y="476.7" font-size="9" text-anchor="end" fill="#000">450</text>
<text x="427.3" y="444.7" font-size="9" text-anchor="end" fill="#000">500</text>
<text x="427.3" y="412.7" font-size="9" text-anchor="end" fill="#000">550</text>
<text x="427.3" y="380.7" font-size="9" text-anchor="end" fill="#000">600</text>
<text x="427.3" y="348.7" font-size="9" text-anchor="end" fill="#000">650</text>
<text x="427.3" y="316.7" font-size="9" text-anchor="end" fill="#000">700</text>
<text x="427.3" y="284.7" font-size="9" text-anchor="end" fill="#000">750</text>
<rect x="492.2" y="373.7" width="5.8" height="5.8" fill="#ff0000"/>
<rect x="524.2" y="439.1" width="5.8" height="5.8" fill="#ff0000"/>
<circle cx="499.8" cy="317.2" r="3.1" fill="#00ff00"/>
<circle cx="513.7" cy="324" r="3.1" fill="#00ff00"/>
<circle cx="518.2" cy="416.5" r="3.1" fill="#00ff00"/>
<rect x="492.2" y="339.7" width="5.8" height="5.8" fill="#0000ff"/>
<rect x="534.1" y="450.1" width="5.8" height="5.8" fill="#0000ff"/>
<rect x="519.9" y="319.9" width="5.8" height="5.8" fill="#00ffff"/>
<rect x="524.7" y="330" width="5.8" height="5.8" fill="#00ffff"/>
<rect x="510.8" y="346.8" width="5.8" height="5.8" fill="#00ffff"/>
<rect x="528.9" y="447.3" width="5.8" height="5.8" fill="#00ffff"/>
<rect x="543" y="450.1" width="5.8" height="5.8" fill="#00ffff"/>
<rect x="519.9" y="331.2" width="5.8" height="5.8" fill="#ff00ff"/>
<rect x="501.4" y="348.2" width="5.8" height="5.8" fill="#ff00ff"/>
<rect x="506.7" y="343.8" width="5.8" height="5.8" fill="#ff00ff"/>
<rect x="515.2" y="332.6" width="5.8" height="5.8" fill="#ffff00"/>
<rect x="501.6" y="343.8" width="5.8" height="5.8" fill="#ffff00"/>
<rect x="528.9" y="450.1" width="5.8" height="5.8" fill="#ffff00"/>
<rect x="506.1" y="322" width="5.8" height="5.8" fill="#808000"/>
<rect x="515.2" y="325.5" width="5.8" height="5.8" fill="#808000"/>
<rect x="524.4" y="352.1" width="5.8" height="5.8" fill="#000080"/>
<rect x="637.6" y="318.4" width="46.8" height="119.9" fill="#fff" stroke="#444" stroke-width="1"/>
<text x="642.3" y="337.9" font-size="8" text-anchor="start" fill="#000">(1,3)</text>
<text x="642.3" y="347.4" font-size="8" text-anchor="start" fill="#000">Vmetal</text>
<rect x="648" y="351.4" width="5.8" height="5.6" fill="#ff0000"/>
<text x="662.2" y="357.1" font-size="8" text-anchor="start" fill="#000">-0.1v</text>
<circle cx="650.9" cy="363.89" r="3" fill="#00ff00"/>
<text x="662.2" y="366.79" font-size="8" text-anchor="start" fill="#000">-0.3v</text>
<rect x="648" y="370.78" width="5.8" height="5.6" fill="#0000ff"/>
<text x="662.2" y="376.48" font-size="8" text-anchor="start" fill="#000">-0.5v</text>
<rect x="648" y="380.47" width="5.8" height="5.6" fill="#00ffff"/>
<text x="662.2" y="386.17" font-size="8" text-anchor="start" fill="#000">-0.7v</text>
<rect x="648" y="390.16" width="5.8" height="5.6" fill="#ff00ff"/>
<text x="662.2" y="395.86" font-size="8" text-anchor="start" fill="#000">-0.9v</text>
<rect x="648" y="399.85" width="5.8" height="5.6" fill="#ffff00"/>
<text x="662.2" y="405.55" font-size="8" text-anchor="start" fill="#000">-1.1v</text>
<rect x="648" y="409.54" width="5.8" height="5.6" fill="#808000"/>
<text x="662.2" y="415.24" font-size="8" text-anchor="start" fill="#000">-1.3v</text>
<rect x="648" y="419.23" width="5.8" height="5.6" fill="#000080"/>
<text x="662.2" y="424.93" font-size="8" text-anchor="start" fill="#000">-1.5v</text>
<text x="423.3" y="498.5" font-size="13" text-anchor="start" fill="#000">Antenna voltage - Metal voltage&#160; (V)</text>
<text x="402.2" y="454.9" font-size="19" text-anchor="start" font-weight="bold" fill="#000" transform="rotate(-90 402.2 454.9)">Wavelength (nm)</text>
<text x="379.5" y="281.5" font-size="17.5" text-anchor="start" fill="#000">(d)</text>
</svg>
</body></html>
